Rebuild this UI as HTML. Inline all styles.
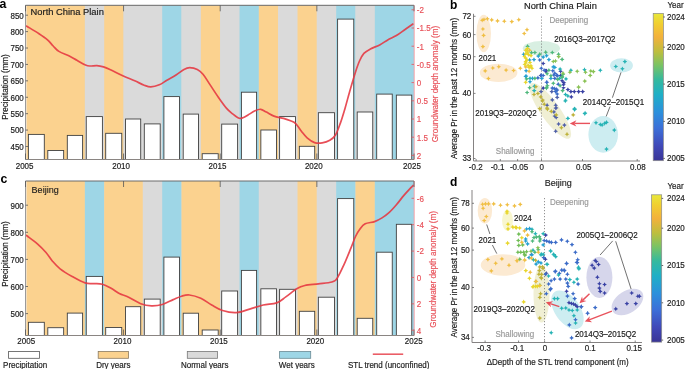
<!DOCTYPE html>
<html><head><meta charset="utf-8"><title>Figure</title>
<style>html,body{margin:0;padding:0;background:#fff;} svg{display:block;will-change:transform;} text{font-family:"Liberation Sans", sans-serif;}</style>
</head><body>
<svg width="685" height="369" viewBox="0 0 685 369">
<defs>
<linearGradient id="parula" x1="0" y1="1" x2="0" y2="0">
<stop offset="0" stop-color="#3A3596"/>
<stop offset="0.1" stop-color="#4048B8"/>
<stop offset="0.22" stop-color="#3C6FD8"/>
<stop offset="0.33" stop-color="#2C90DC"/>
<stop offset="0.45" stop-color="#1FAFC6"/>
<stop offset="0.55" stop-color="#35B99E"/>
<stop offset="0.65" stop-color="#7BC363"/>
<stop offset="0.74" stop-color="#BDBE3E"/>
<stop offset="0.84" stop-color="#F3B13C"/>
<stop offset="0.93" stop-color="#F1CF30"/>
<stop offset="1" stop-color="#E8E83A"/>
</linearGradient>
</defs>
<rect width="685" height="369" fill="#fff"/>

<rect x="26.5" y="5.3" width="387.50" height="154.2" fill="#DADADA"/>
<rect x="26.50" y="5.3" width="58.39" height="154.2" fill="#FBD28F"/>
<rect x="84.89" y="5.3" width="19.33" height="154.2" fill="#DADADA"/>
<rect x="104.22" y="5.3" width="19.33" height="154.2" fill="#FBD28F"/>
<rect x="123.55" y="5.3" width="38.66" height="154.2" fill="#DADADA"/>
<rect x="162.21" y="5.3" width="19.33" height="154.2" fill="#9ED6E6"/>
<rect x="181.54" y="5.3" width="19.33" height="154.2" fill="#DADADA"/>
<rect x="200.87" y="5.3" width="19.33" height="154.2" fill="#FBD28F"/>
<rect x="220.20" y="5.3" width="19.33" height="154.2" fill="#DADADA"/>
<rect x="239.53" y="5.3" width="19.33" height="154.2" fill="#9ED6E6"/>
<rect x="258.86" y="5.3" width="19.33" height="154.2" fill="#FBD28F"/>
<rect x="278.19" y="5.3" width="19.33" height="154.2" fill="#DADADA"/>
<rect x="297.52" y="5.3" width="19.33" height="154.2" fill="#FBD28F"/>
<rect x="316.85" y="5.3" width="19.33" height="154.2" fill="#DADADA"/>
<rect x="336.18" y="5.3" width="19.33" height="154.2" fill="#9ED6E6"/>
<rect x="355.51" y="5.3" width="19.33" height="154.2" fill="#DADADA"/>
<rect x="374.84" y="5.3" width="39.16" height="154.2" fill="#9ED6E6"/>
<rect x="28.40" y="134.40" width="15.90" height="25.10" fill="#fff" stroke="#404040" stroke-width="0.9"/>
<rect x="47.80" y="150.50" width="15.85" height="9.00" fill="#fff" stroke="#404040" stroke-width="0.9"/>
<rect x="67.30" y="135.40" width="15.30" height="24.10" fill="#fff" stroke="#404040" stroke-width="0.9"/>
<rect x="86.25" y="116.60" width="16.15" height="42.90" fill="#fff" stroke="#404040" stroke-width="0.9"/>
<rect x="105.70" y="133.30" width="16.05" height="26.20" fill="#fff" stroke="#404040" stroke-width="0.9"/>
<rect x="125.55" y="119.00" width="15.15" height="40.50" fill="#fff" stroke="#404040" stroke-width="0.9"/>
<rect x="144.30" y="123.90" width="15.90" height="35.60" fill="#fff" stroke="#404040" stroke-width="0.9"/>
<rect x="163.90" y="96.60" width="15.55" height="62.90" fill="#fff" stroke="#404040" stroke-width="0.9"/>
<rect x="183.20" y="114.10" width="15.25" height="45.40" fill="#fff" stroke="#404040" stroke-width="0.9"/>
<rect x="202.20" y="153.70" width="16.00" height="5.80" fill="#fff" stroke="#404040" stroke-width="0.9"/>
<rect x="221.70" y="124.10" width="15.90" height="35.40" fill="#fff" stroke="#404040" stroke-width="0.9"/>
<rect x="241.40" y="92.20" width="15.20" height="67.30" fill="#fff" stroke="#404040" stroke-width="0.9"/>
<rect x="260.85" y="130.00" width="15.65" height="29.50" fill="#fff" stroke="#404040" stroke-width="0.9"/>
<rect x="279.60" y="116.60" width="15.85" height="42.90" fill="#fff" stroke="#404040" stroke-width="0.9"/>
<rect x="299.35" y="146.30" width="15.35" height="13.20" fill="#fff" stroke="#404040" stroke-width="0.9"/>
<rect x="318.35" y="112.70" width="16.10" height="46.80" fill="#fff" stroke="#404040" stroke-width="0.9"/>
<rect x="337.60" y="19.10" width="16.15" height="140.40" fill="#fff" stroke="#404040" stroke-width="0.9"/>
<rect x="357.20" y="112.00" width="15.55" height="47.50" fill="#fff" stroke="#404040" stroke-width="0.9"/>
<rect x="376.70" y="94.10" width="15.55" height="65.40" fill="#fff" stroke="#404040" stroke-width="0.9"/>
<rect x="396.35" y="95.10" width="15.40" height="64.40" fill="#fff" stroke="#404040" stroke-width="0.9"/>
<path d="M26.00,25.80 C26.27,25.95 25.43,25.38 27.60,26.70 C29.77,28.02 35.68,31.52 39.00,33.70 C42.32,35.88 45.13,37.75 47.50,39.80 C49.87,41.85 51.30,44.07 53.20,46.00 C55.10,47.93 56.22,49.72 58.90,51.40 C61.58,53.08 66.30,54.62 69.30,56.10 C72.30,57.58 74.20,58.82 76.90,60.30 C79.60,61.78 83.28,64.05 85.50,65.00 C87.72,65.95 88.30,65.90 90.20,66.00 C92.10,66.10 94.68,65.45 96.90,65.60 C99.12,65.75 101.23,66.20 103.50,66.90 C105.77,67.60 107.20,68.28 110.50,69.80 C113.80,71.32 119.27,74.17 123.30,76.00 C127.33,77.83 131.22,79.27 134.70,80.80 C138.18,82.33 141.52,84.18 144.20,85.20 C146.88,86.22 148.28,86.97 150.80,86.90 C153.32,86.83 156.62,85.92 159.30,84.80 C161.98,83.68 164.05,81.88 166.90,80.20 C169.75,78.52 173.55,76.50 176.40,74.70 C179.25,72.90 181.78,70.57 184.00,69.40 C186.22,68.23 187.48,67.70 189.70,67.70 C191.92,67.70 195.08,68.32 197.30,69.40 C199.52,70.48 201.00,71.83 203.00,74.20 C205.00,76.57 206.72,79.72 209.30,83.60 C211.88,87.48 215.62,93.37 218.50,97.50 C221.38,101.63 224.18,105.62 226.60,108.40 C229.02,111.18 231.18,112.70 233.00,114.20 C234.82,115.70 236.25,116.70 237.50,117.40 C238.75,118.10 239.50,118.37 240.50,118.40 C241.50,118.43 242.25,118.17 243.50,117.60 C244.75,117.03 246.08,116.13 248.00,115.00 C249.92,113.87 252.88,111.75 255.00,110.80 C257.12,109.85 258.80,109.08 260.70,109.30 C262.60,109.52 264.18,110.97 266.40,112.10 C268.62,113.23 271.15,115.05 274.00,116.10 C276.85,117.15 280.75,117.62 283.50,118.40 C286.25,119.18 288.47,119.93 290.50,120.80 C292.53,121.67 293.88,121.87 295.70,123.60 C297.52,125.33 299.50,128.83 301.40,131.20 C303.30,133.57 304.90,135.90 307.10,137.80 C309.30,139.70 312.08,141.75 314.60,142.60 C317.12,143.45 319.67,143.28 322.20,142.90 C324.73,142.52 327.58,141.62 329.80,140.30 C332.02,138.98 333.77,137.78 335.50,135.00 C337.23,132.22 338.62,128.03 340.20,123.60 C341.78,119.17 343.42,113.77 345.00,108.40 C346.58,103.03 348.00,97.32 349.70,91.40 C351.40,85.48 353.57,77.97 355.20,72.90 C356.83,67.83 358.05,64.25 359.50,61.00 C360.95,57.75 362.08,55.40 363.90,53.40 C365.72,51.40 367.70,50.45 370.40,49.00 C373.10,47.55 377.22,46.22 380.10,44.70 C382.98,43.18 384.98,41.42 387.70,39.90 C390.42,38.38 393.50,37.33 396.40,35.60 C399.30,33.87 402.47,31.35 405.10,29.50 C407.73,27.65 410.80,25.48 412.20,24.50 C413.60,23.52 413.28,23.75 413.50,23.60" fill="none" stroke="#E53540" stroke-opacity="0.88" stroke-width="1.7" stroke-linejoin="round"/>
<line x1="25.5" y1="5.3" x2="414.0" y2="5.3" stroke="#6a6a6a" stroke-width="1"/>
<line x1="25.5" y1="159.5" x2="414.0" y2="159.5" stroke="#8a8582" stroke-width="1"/>
<line x1="25.5" y1="5.3" x2="25.5" y2="159.5" stroke="#9a9a9a" stroke-width="1"/>
<line x1="414.2" y1="5.3" x2="414.2" y2="159.5" stroke="#F2A3A8" stroke-width="1"/>
<line x1="25.50" y1="5.3" x2="25.50" y2="11.3" stroke="#555" stroke-width="0.8"/>
<line x1="25.50" y1="159.5" x2="25.50" y2="153.5" stroke="#555" stroke-width="0.8"/>
<text x="24.60" y="169.20" font-size="8.6" textLength="17.80" lengthAdjust="spacingAndGlyphs" text-anchor="middle" fill="#1c1c1c" stroke="#1c1c1c" stroke-width="0.18" >2005</text>
<line x1="123.55" y1="5.3" x2="123.55" y2="11.3" stroke="#555" stroke-width="0.8"/>
<line x1="123.55" y1="159.5" x2="123.55" y2="153.5" stroke="#555" stroke-width="0.8"/>
<text x="121.10" y="169.20" font-size="8.6" textLength="17.80" lengthAdjust="spacingAndGlyphs" text-anchor="middle" fill="#1c1c1c" stroke="#1c1c1c" stroke-width="0.18" >2010</text>
<line x1="220.20" y1="5.3" x2="220.20" y2="11.3" stroke="#555" stroke-width="0.8"/>
<line x1="220.20" y1="159.5" x2="220.20" y2="153.5" stroke="#555" stroke-width="0.8"/>
<text x="217.50" y="169.20" font-size="8.6" textLength="17.80" lengthAdjust="spacingAndGlyphs" text-anchor="middle" fill="#1c1c1c" stroke="#1c1c1c" stroke-width="0.18" >2015</text>
<line x1="316.85" y1="5.3" x2="316.85" y2="11.3" stroke="#555" stroke-width="0.8"/>
<line x1="316.85" y1="159.5" x2="316.85" y2="153.5" stroke="#555" stroke-width="0.8"/>
<text x="313.80" y="169.20" font-size="8.6" textLength="17.80" lengthAdjust="spacingAndGlyphs" text-anchor="middle" fill="#1c1c1c" stroke="#1c1c1c" stroke-width="0.18" >2020</text>
<line x1="414.00" y1="5.3" x2="414.00" y2="11.3" stroke="#555" stroke-width="0.8"/>
<line x1="414.00" y1="159.5" x2="414.00" y2="153.5" stroke="#555" stroke-width="0.8"/>
<text x="412.00" y="169.20" font-size="8.6" textLength="17.80" lengthAdjust="spacingAndGlyphs" text-anchor="middle" fill="#1c1c1c" stroke="#1c1c1c" stroke-width="0.18" >2025</text>
<line x1="25.5" y1="146.48" x2="28.0" y2="146.48" stroke="#555" stroke-width="0.8"/>
<text x="23.80" y="149.78" font-size="8.6" textLength="13.35" lengthAdjust="spacingAndGlyphs" text-anchor="end" fill="#1c1c1c" stroke="#1c1c1c" stroke-width="0.18" >450</text>
<line x1="25.5" y1="130.07" x2="28.0" y2="130.07" stroke="#555" stroke-width="0.8"/>
<text x="23.80" y="133.37" font-size="8.6" textLength="13.35" lengthAdjust="spacingAndGlyphs" text-anchor="end" fill="#1c1c1c" stroke="#1c1c1c" stroke-width="0.18" >500</text>
<line x1="25.5" y1="113.66" x2="28.0" y2="113.66" stroke="#555" stroke-width="0.8"/>
<text x="23.80" y="116.96" font-size="8.6" textLength="13.35" lengthAdjust="spacingAndGlyphs" text-anchor="end" fill="#1c1c1c" stroke="#1c1c1c" stroke-width="0.18" >550</text>
<line x1="25.5" y1="97.25" x2="28.0" y2="97.25" stroke="#555" stroke-width="0.8"/>
<text x="23.80" y="100.55" font-size="8.6" textLength="13.35" lengthAdjust="spacingAndGlyphs" text-anchor="end" fill="#1c1c1c" stroke="#1c1c1c" stroke-width="0.18" >600</text>
<line x1="25.5" y1="80.84" x2="28.0" y2="80.84" stroke="#555" stroke-width="0.8"/>
<text x="23.80" y="84.14" font-size="8.6" textLength="13.35" lengthAdjust="spacingAndGlyphs" text-anchor="end" fill="#1c1c1c" stroke="#1c1c1c" stroke-width="0.18" >650</text>
<line x1="25.5" y1="64.43" x2="28.0" y2="64.43" stroke="#555" stroke-width="0.8"/>
<text x="23.80" y="67.73" font-size="8.6" textLength="13.35" lengthAdjust="spacingAndGlyphs" text-anchor="end" fill="#1c1c1c" stroke="#1c1c1c" stroke-width="0.18" >700</text>
<line x1="25.5" y1="48.02" x2="28.0" y2="48.02" stroke="#555" stroke-width="0.8"/>
<text x="23.80" y="51.32" font-size="8.6" textLength="13.35" lengthAdjust="spacingAndGlyphs" text-anchor="end" fill="#1c1c1c" stroke="#1c1c1c" stroke-width="0.18" >750</text>
<line x1="25.5" y1="31.61" x2="28.0" y2="31.61" stroke="#555" stroke-width="0.8"/>
<text x="23.80" y="34.91" font-size="8.6" textLength="13.35" lengthAdjust="spacingAndGlyphs" text-anchor="end" fill="#1c1c1c" stroke="#1c1c1c" stroke-width="0.18" >800</text>
<line x1="25.5" y1="15.20" x2="28.0" y2="15.20" stroke="#555" stroke-width="0.8"/>
<text x="23.80" y="18.50" font-size="8.6" textLength="13.35" lengthAdjust="spacingAndGlyphs" text-anchor="end" fill="#1c1c1c" stroke="#1c1c1c" stroke-width="0.18" >850</text>
<line x1="414.0" y1="9.80" x2="411.5" y2="9.80" stroke="#E8525A" stroke-width="0.8"/>
<text x="416.80" y="13.10" font-size="8.6" textLength="7.11" lengthAdjust="spacingAndGlyphs" text-anchor="start" fill="#E8525A" stroke="#E8525A" stroke-width="0.18" >-2</text>
<line x1="414.0" y1="28.00" x2="411.5" y2="28.00" stroke="#E8525A" stroke-width="0.8"/>
<text x="416.80" y="31.30" font-size="8.6" textLength="13.79" lengthAdjust="spacingAndGlyphs" text-anchor="start" fill="#E8525A" stroke="#E8525A" stroke-width="0.18" >-1.5</text>
<line x1="414.0" y1="46.20" x2="411.5" y2="46.20" stroke="#E8525A" stroke-width="0.8"/>
<text x="416.80" y="49.50" font-size="8.6" textLength="7.11" lengthAdjust="spacingAndGlyphs" text-anchor="start" fill="#E8525A" stroke="#E8525A" stroke-width="0.18" >-1</text>
<line x1="414.0" y1="64.40" x2="411.5" y2="64.40" stroke="#E8525A" stroke-width="0.8"/>
<text x="416.80" y="67.70" font-size="8.6" textLength="13.79" lengthAdjust="spacingAndGlyphs" text-anchor="start" fill="#E8525A" stroke="#E8525A" stroke-width="0.18" >-0.5</text>
<line x1="414.0" y1="82.60" x2="411.5" y2="82.60" stroke="#E8525A" stroke-width="0.8"/>
<text x="416.80" y="85.90" font-size="8.6" textLength="4.45" lengthAdjust="spacingAndGlyphs" text-anchor="start" fill="#E8525A" stroke="#E8525A" stroke-width="0.18" >0</text>
<line x1="414.0" y1="100.80" x2="411.5" y2="100.80" stroke="#E8525A" stroke-width="0.8"/>
<text x="416.80" y="104.10" font-size="8.6" textLength="11.12" lengthAdjust="spacingAndGlyphs" text-anchor="start" fill="#E8525A" stroke="#E8525A" stroke-width="0.18" >0.5</text>
<line x1="414.0" y1="119.00" x2="411.5" y2="119.00" stroke="#E8525A" stroke-width="0.8"/>
<text x="416.80" y="122.30" font-size="8.6" textLength="4.45" lengthAdjust="spacingAndGlyphs" text-anchor="start" fill="#E8525A" stroke="#E8525A" stroke-width="0.18" >1</text>
<line x1="414.0" y1="137.20" x2="411.5" y2="137.20" stroke="#E8525A" stroke-width="0.8"/>
<text x="416.80" y="140.50" font-size="8.6" textLength="11.12" lengthAdjust="spacingAndGlyphs" text-anchor="start" fill="#E8525A" stroke="#E8525A" stroke-width="0.18" >1.5</text>
<line x1="414.0" y1="155.40" x2="411.5" y2="155.40" stroke="#E8525A" stroke-width="0.8"/>
<text x="416.80" y="158.70" font-size="8.6" textLength="4.45" lengthAdjust="spacingAndGlyphs" text-anchor="start" fill="#E8525A" stroke="#E8525A" stroke-width="0.18" >2</text>
<text x="30.60" y="15.40" font-size="9.35" text-anchor="start" fill="#1c1c1c" stroke="#1c1c1c" stroke-width="0.18" >North China Plain</text>
<text transform="translate(7.5,87.00) rotate(-90)" font-size="8.6" textLength="65.6" lengthAdjust="spacingAndGlyphs" text-anchor="middle" fill="#1c1c1c" stroke="#1c1c1c" stroke-width="0.18">Precipitation (mm)</text>
<text transform="translate(437.5,84.00) rotate(-90)" font-size="8.6" textLength="116.5" lengthAdjust="spacingAndGlyphs" text-anchor="middle" fill="#E8525A" stroke="#E8525A" stroke-width="0.18">Groundwater depth anomaly (m)</text>
<rect x="26.5" y="181.0" width="387.50" height="154.5" fill="#DADADA"/>
<rect x="26.50" y="181.0" width="58.39" height="154.5" fill="#FBD28F"/>
<rect x="84.89" y="181.0" width="19.33" height="154.5" fill="#9ED6E6"/>
<rect x="104.22" y="181.0" width="38.66" height="154.5" fill="#FBD28F"/>
<rect x="142.88" y="181.0" width="19.33" height="154.5" fill="#DADADA"/>
<rect x="162.21" y="181.0" width="19.33" height="154.5" fill="#9ED6E6"/>
<rect x="181.54" y="181.0" width="38.66" height="154.5" fill="#FBD28F"/>
<rect x="220.20" y="181.0" width="19.33" height="154.5" fill="#DADADA"/>
<rect x="239.53" y="181.0" width="19.33" height="154.5" fill="#9ED6E6"/>
<rect x="258.86" y="181.0" width="38.66" height="154.5" fill="#DADADA"/>
<rect x="297.52" y="181.0" width="19.33" height="154.5" fill="#FBD28F"/>
<rect x="316.85" y="181.0" width="19.33" height="154.5" fill="#DADADA"/>
<rect x="336.18" y="181.0" width="19.33" height="154.5" fill="#9ED6E6"/>
<rect x="355.51" y="181.0" width="19.33" height="154.5" fill="#FBD28F"/>
<rect x="374.84" y="181.0" width="39.16" height="154.5" fill="#9ED6E6"/>
<rect x="28.40" y="322.30" width="15.90" height="13.20" fill="#fff" stroke="#404040" stroke-width="0.9"/>
<rect x="47.80" y="327.70" width="15.85" height="7.80" fill="#fff" stroke="#404040" stroke-width="0.9"/>
<rect x="67.30" y="313.10" width="15.30" height="22.40" fill="#fff" stroke="#404040" stroke-width="0.9"/>
<rect x="86.25" y="276.40" width="16.15" height="59.10" fill="#fff" stroke="#404040" stroke-width="0.9"/>
<rect x="105.70" y="327.50" width="16.05" height="8.00" fill="#fff" stroke="#404040" stroke-width="0.9"/>
<rect x="125.55" y="306.70" width="15.15" height="28.80" fill="#fff" stroke="#404040" stroke-width="0.9"/>
<rect x="144.30" y="299.10" width="15.90" height="36.40" fill="#fff" stroke="#404040" stroke-width="0.9"/>
<rect x="163.90" y="257.10" width="15.55" height="78.40" fill="#fff" stroke="#404040" stroke-width="0.9"/>
<rect x="183.20" y="313.20" width="15.25" height="22.30" fill="#fff" stroke="#404040" stroke-width="0.9"/>
<rect x="202.20" y="330.00" width="16.00" height="5.50" fill="#fff" stroke="#404040" stroke-width="0.9"/>
<rect x="221.70" y="291.00" width="15.90" height="44.50" fill="#fff" stroke="#404040" stroke-width="0.9"/>
<rect x="241.40" y="270.40" width="15.20" height="65.10" fill="#fff" stroke="#404040" stroke-width="0.9"/>
<rect x="260.85" y="288.80" width="15.65" height="46.70" fill="#fff" stroke="#404040" stroke-width="0.9"/>
<rect x="279.60" y="289.30" width="15.85" height="46.20" fill="#fff" stroke="#404040" stroke-width="0.9"/>
<rect x="299.35" y="311.30" width="15.35" height="24.20" fill="#fff" stroke="#404040" stroke-width="0.9"/>
<rect x="318.35" y="297.20" width="16.10" height="38.30" fill="#fff" stroke="#404040" stroke-width="0.9"/>
<rect x="337.60" y="198.60" width="16.15" height="136.90" fill="#fff" stroke="#404040" stroke-width="0.9"/>
<rect x="357.20" y="318.30" width="15.55" height="17.20" fill="#fff" stroke="#404040" stroke-width="0.9"/>
<rect x="376.70" y="252.20" width="15.55" height="83.30" fill="#fff" stroke="#404040" stroke-width="0.9"/>
<rect x="396.35" y="224.30" width="15.40" height="111.20" fill="#fff" stroke="#404040" stroke-width="0.9"/>
<path d="M26.00,235.30 C26.27,235.47 25.70,234.87 27.60,236.30 C29.50,237.73 34.33,241.20 37.40,243.90 C40.47,246.60 43.48,249.62 46.00,252.50 C48.52,255.38 50.15,258.48 52.50,261.20 C54.85,263.92 56.83,266.27 60.10,268.80 C63.37,271.33 67.93,274.05 72.10,276.40 C76.27,278.75 81.48,281.70 85.10,282.90 C88.72,284.10 90.92,283.38 93.80,283.60 C96.68,283.82 99.52,283.42 102.40,284.20 C105.28,284.98 108.20,286.70 111.10,288.30 C114.00,289.90 117.13,292.45 119.80,293.80 C122.47,295.15 123.62,294.75 127.10,296.40 C130.58,298.05 136.63,302.12 140.70,303.70 C144.77,305.28 147.90,305.77 151.50,305.90 C155.10,306.03 158.68,305.55 162.30,304.50 C165.92,303.45 170.00,300.98 173.20,299.60 C176.40,298.22 178.80,296.97 181.50,296.20 C184.20,295.43 186.18,294.65 189.40,295.00 C192.62,295.35 197.08,296.63 200.80,298.30 C204.52,299.97 208.08,302.97 211.70,305.00 C215.32,307.03 218.43,309.23 222.50,310.50 C226.57,311.77 231.58,312.83 236.10,312.60 C240.62,312.37 245.08,310.37 249.60,309.10 C254.12,307.83 258.68,306.03 263.20,305.00 C267.72,303.97 272.93,304.25 276.70,302.90 C280.47,301.55 282.47,299.25 285.80,296.90 C289.13,294.55 293.53,290.70 296.70,288.80 C299.87,286.90 301.18,286.32 304.80,285.50 C308.42,284.68 313.88,284.48 318.40,283.90 C322.92,283.32 328.75,283.00 331.90,282.00 C335.05,281.00 335.27,280.83 337.30,277.90 C339.33,274.97 341.83,269.37 344.10,264.40 C346.37,259.43 349.00,252.75 350.90,248.10 C352.80,243.45 354.02,239.65 355.50,236.50 C356.98,233.35 358.18,231.32 359.80,229.20 C361.42,227.08 362.73,225.07 365.20,223.80 C367.67,222.53 371.80,222.58 374.60,221.60 C377.40,220.62 379.55,219.43 382.00,217.90 C384.45,216.37 386.87,214.63 389.30,212.40 C391.73,210.17 394.17,207.33 396.60,204.50 C399.03,201.67 401.47,198.25 403.90,195.40 C406.33,192.55 409.58,189.13 411.20,187.40 C412.82,185.67 413.20,185.40 413.60,185.00" fill="none" stroke="#E53540" stroke-opacity="0.88" stroke-width="1.7" stroke-linejoin="round"/>
<line x1="25.5" y1="181.0" x2="414.0" y2="181.0" stroke="#6a6a6a" stroke-width="1"/>
<line x1="25.5" y1="335.5" x2="414.0" y2="335.5" stroke="#8a8582" stroke-width="1"/>
<line x1="25.5" y1="181.0" x2="25.5" y2="335.5" stroke="#9a9a9a" stroke-width="1"/>
<line x1="414.2" y1="181.0" x2="414.2" y2="335.5" stroke="#F2A3A8" stroke-width="1"/>
<line x1="25.50" y1="181.0" x2="25.50" y2="187.0" stroke="#555" stroke-width="0.8"/>
<line x1="25.50" y1="335.5" x2="25.50" y2="329.5" stroke="#555" stroke-width="0.8"/>
<text x="26.20" y="344.00" font-size="8.6" textLength="17.80" lengthAdjust="spacingAndGlyphs" text-anchor="middle" fill="#1c1c1c" stroke="#1c1c1c" stroke-width="0.18" >2005</text>
<line x1="123.55" y1="181.0" x2="123.55" y2="187.0" stroke="#555" stroke-width="0.8"/>
<line x1="123.55" y1="335.5" x2="123.55" y2="329.5" stroke="#555" stroke-width="0.8"/>
<text x="122.50" y="344.00" font-size="8.6" textLength="17.80" lengthAdjust="spacingAndGlyphs" text-anchor="middle" fill="#1c1c1c" stroke="#1c1c1c" stroke-width="0.18" >2010</text>
<line x1="220.20" y1="181.0" x2="220.20" y2="187.0" stroke="#555" stroke-width="0.8"/>
<line x1="220.20" y1="335.5" x2="220.20" y2="329.5" stroke="#555" stroke-width="0.8"/>
<text x="218.90" y="344.00" font-size="8.6" textLength="17.80" lengthAdjust="spacingAndGlyphs" text-anchor="middle" fill="#1c1c1c" stroke="#1c1c1c" stroke-width="0.18" >2015</text>
<line x1="316.85" y1="181.0" x2="316.85" y2="187.0" stroke="#555" stroke-width="0.8"/>
<line x1="316.85" y1="335.5" x2="316.85" y2="329.5" stroke="#555" stroke-width="0.8"/>
<text x="315.30" y="344.00" font-size="8.6" textLength="17.80" lengthAdjust="spacingAndGlyphs" text-anchor="middle" fill="#1c1c1c" stroke="#1c1c1c" stroke-width="0.18" >2020</text>
<line x1="414.00" y1="181.0" x2="414.00" y2="187.0" stroke="#555" stroke-width="0.8"/>
<line x1="414.00" y1="335.5" x2="414.00" y2="329.5" stroke="#555" stroke-width="0.8"/>
<text x="413.70" y="344.00" font-size="8.6" textLength="17.80" lengthAdjust="spacingAndGlyphs" text-anchor="middle" fill="#1c1c1c" stroke="#1c1c1c" stroke-width="0.18" >2025</text>
<line x1="25.5" y1="313.60" x2="28.0" y2="313.60" stroke="#555" stroke-width="0.8"/>
<text x="23.80" y="316.90" font-size="8.6" textLength="13.35" lengthAdjust="spacingAndGlyphs" text-anchor="end" fill="#1c1c1c" stroke="#1c1c1c" stroke-width="0.18" >500</text>
<line x1="25.5" y1="286.50" x2="28.0" y2="286.50" stroke="#555" stroke-width="0.8"/>
<text x="23.80" y="289.80" font-size="8.6" textLength="13.35" lengthAdjust="spacingAndGlyphs" text-anchor="end" fill="#1c1c1c" stroke="#1c1c1c" stroke-width="0.18" >600</text>
<line x1="25.5" y1="259.40" x2="28.0" y2="259.40" stroke="#555" stroke-width="0.8"/>
<text x="23.80" y="262.70" font-size="8.6" textLength="13.35" lengthAdjust="spacingAndGlyphs" text-anchor="end" fill="#1c1c1c" stroke="#1c1c1c" stroke-width="0.18" >700</text>
<line x1="25.5" y1="232.30" x2="28.0" y2="232.30" stroke="#555" stroke-width="0.8"/>
<text x="23.80" y="235.60" font-size="8.6" textLength="13.35" lengthAdjust="spacingAndGlyphs" text-anchor="end" fill="#1c1c1c" stroke="#1c1c1c" stroke-width="0.18" >800</text>
<line x1="25.5" y1="205.20" x2="28.0" y2="205.20" stroke="#555" stroke-width="0.8"/>
<text x="23.80" y="208.50" font-size="8.6" textLength="13.35" lengthAdjust="spacingAndGlyphs" text-anchor="end" fill="#1c1c1c" stroke="#1c1c1c" stroke-width="0.18" >900</text>
<line x1="414.0" y1="198.31" x2="411.5" y2="198.31" stroke="#E8525A" stroke-width="0.8"/>
<text x="416.80" y="201.61" font-size="8.6" textLength="7.11" lengthAdjust="spacingAndGlyphs" text-anchor="start" fill="#E8525A" stroke="#E8525A" stroke-width="0.18" >-6</text>
<line x1="414.0" y1="224.69" x2="411.5" y2="224.69" stroke="#E8525A" stroke-width="0.8"/>
<text x="416.80" y="227.99" font-size="8.6" textLength="7.11" lengthAdjust="spacingAndGlyphs" text-anchor="start" fill="#E8525A" stroke="#E8525A" stroke-width="0.18" >-4</text>
<line x1="414.0" y1="251.07" x2="411.5" y2="251.07" stroke="#E8525A" stroke-width="0.8"/>
<text x="416.80" y="254.37" font-size="8.6" textLength="7.11" lengthAdjust="spacingAndGlyphs" text-anchor="start" fill="#E8525A" stroke="#E8525A" stroke-width="0.18" >-2</text>
<line x1="414.0" y1="277.45" x2="411.5" y2="277.45" stroke="#E8525A" stroke-width="0.8"/>
<text x="416.80" y="280.75" font-size="8.6" textLength="4.45" lengthAdjust="spacingAndGlyphs" text-anchor="start" fill="#E8525A" stroke="#E8525A" stroke-width="0.18" >0</text>
<line x1="414.0" y1="303.83" x2="411.5" y2="303.83" stroke="#E8525A" stroke-width="0.8"/>
<text x="416.80" y="307.13" font-size="8.6" textLength="4.45" lengthAdjust="spacingAndGlyphs" text-anchor="start" fill="#E8525A" stroke="#E8525A" stroke-width="0.18" >2</text>
<line x1="414.0" y1="330.21" x2="411.5" y2="330.21" stroke="#E8525A" stroke-width="0.8"/>
<text x="416.80" y="333.51" font-size="8.6" textLength="4.45" lengthAdjust="spacingAndGlyphs" text-anchor="start" fill="#E8525A" stroke="#E8525A" stroke-width="0.18" >4</text>
<text x="31.6" y="193.1" font-size="9.9" textLength="27.1" lengthAdjust="spacingAndGlyphs" fill="#1c1c1c" stroke="#1c1c1c" stroke-width="0.15">Beijing</text>
<text transform="translate(7.5,254.00) rotate(-90)" font-size="8.6" textLength="65.6" lengthAdjust="spacingAndGlyphs" text-anchor="middle" fill="#1c1c1c" stroke="#1c1c1c" stroke-width="0.18">Precipitation (mm)</text>
<text transform="translate(436.3,269.40) rotate(-90)" font-size="8.6" textLength="116.5" lengthAdjust="spacingAndGlyphs" text-anchor="middle" fill="#E8525A" stroke="#E8525A" stroke-width="0.18">Groundwater depth anomaly (m)</text>
<text x="-0.6" y="7.6" font-size="12.3" font-weight="bold" fill="#000">a</text>
<text x="0.45" y="182.8" font-size="12.3" font-weight="bold" fill="#000">c</text>
<text x="450.1" y="8.5" font-size="12" font-weight="bold" fill="#000">b</text>
<text x="449.9" y="185.5" font-size="12" font-weight="bold" fill="#000">d</text>
<ellipse cx="483.7" cy="33.5" rx="7.3" ry="18.7" fill="#FCEAD2" opacity="1"/>
<ellipse cx="498.6" cy="72.8" rx="18.8" ry="9.1" fill="#FCEAD2" opacity="1"/>
<ellipse cx="541.4" cy="48.3" rx="18.6" ry="7.3" fill="#D8EFE2" opacity="1"/>
<ellipse cx="550.3" cy="110.9" rx="33.4" ry="9.5" fill="#F0EFD4" opacity="1" transform="rotate(54.7 550.3 110.9)"/>
<ellipse cx="621.5" cy="65.4" rx="11.4" ry="7.1" fill="#CDEDF1" opacity="1"/>
<ellipse cx="603.2" cy="134.4" rx="14.8" ry="18.3" fill="#CDEDF1" opacity="1"/>
<line x1="541.5" y1="16.5" x2="541.5" y2="160" stroke="#777" stroke-width="0.8" stroke-dasharray="1.2,1.8"/>
<path d="M540.85,63.50L542.40,62.70L543.20,61.15L544.00,62.70L545.55,63.50L544.00,64.30L543.20,65.85L542.40,64.30ZM544.25,70.80L545.80,70.00L546.60,68.45L547.40,70.00L548.95,70.80L547.40,71.60L546.60,73.15L545.80,71.60ZM558.25,71.30L559.80,70.50L560.60,68.95L561.40,70.50L562.95,71.30L561.40,72.10L560.60,73.65L559.80,72.10ZM543.15,70.80L544.70,70.00L545.50,68.45L546.30,70.00L547.85,70.80L546.30,71.60L545.50,73.15L544.70,71.60ZM576.25,91.60L577.80,90.80L578.60,89.25L579.40,90.80L580.95,91.60L579.40,92.40L578.60,93.95L577.80,92.40ZM580.35,91.60L581.90,90.80L582.70,89.25L583.50,90.80L585.05,91.60L583.50,92.40L582.70,93.95L581.90,92.40ZM538.45,75.50L540.00,74.70L540.80,73.15L541.60,74.70L543.15,75.50L541.60,76.30L540.80,77.85L540.00,76.30ZM540.85,88.10L542.40,87.30L543.20,85.75L544.00,87.30L545.55,88.10L544.00,88.90L543.20,90.45L542.40,88.90ZM558.25,75.50L559.80,74.70L560.60,73.15L561.40,74.70L562.95,75.50L561.40,76.30L560.60,77.85L559.80,76.30ZM559.75,80.80L561.30,80.00L562.10,78.45L562.90,80.00L564.45,80.80L562.90,81.60L562.10,83.15L561.30,81.60ZM561.65,82.80L563.20,82.00L564.00,80.45L564.80,82.00L566.35,82.80L564.80,83.60L564.00,85.15L563.20,83.60ZM561.15,84.70L562.70,83.90L563.50,82.35L564.30,83.90L565.85,84.70L564.30,85.50L563.50,87.05L562.70,85.50ZM561.15,87.70L562.70,86.90L563.50,85.35L564.30,86.90L565.85,87.70L564.30,88.50L563.50,90.05L562.70,88.50ZM565.55,89.60L567.10,88.80L567.90,87.25L568.70,88.80L570.25,89.60L568.70,90.40L567.90,91.95L567.10,90.40ZM568.55,91.60L570.10,90.80L570.90,89.25L571.70,90.80L573.25,91.60L571.70,92.40L570.90,93.95L570.10,92.40ZM571.95,91.60L573.50,90.80L574.30,89.25L575.10,90.80L576.65,91.60L575.10,92.40L574.30,93.95L573.50,92.40ZM576.35,91.60L577.90,90.80L578.70,89.25L579.50,90.80L581.05,91.60L579.50,92.40L578.70,93.95L577.90,92.40ZM568.95,96.90L570.50,96.10L571.30,94.55L572.10,96.10L573.65,96.90L572.10,97.70L571.30,99.25L570.50,97.70Z" fill="#3A42A4"/>
<path d="M538.75,91.60L540.30,90.80L541.10,89.25L541.90,90.80L543.45,91.60L541.90,92.40L541.10,93.95L540.30,92.40ZM544.75,105.20L546.30,104.40L547.10,102.85L547.90,104.40L549.45,105.20L547.90,106.00L547.10,107.55L546.30,106.00ZM549.45,91.60L551.00,90.80L551.80,89.25L552.60,90.80L554.15,91.60L552.60,92.40L551.80,93.95L551.00,92.40ZM554.85,97.40L556.40,96.60L557.20,95.05L558.00,96.60L559.55,97.40L558.00,98.20L557.20,99.75L556.40,98.20ZM549.95,99.90L551.50,99.10L552.30,97.55L553.10,99.10L554.65,99.90L553.10,100.70L552.30,102.25L551.50,100.70ZM553.35,105.20L554.90,104.40L555.70,102.85L556.50,104.40L558.05,105.20L556.50,106.00L555.70,107.55L554.90,106.00ZM553.35,108.10L554.90,107.30L555.70,105.75L556.50,107.30L558.05,108.10L556.50,108.90L555.70,110.45L554.90,108.90ZM553.85,107.90L555.40,107.10L556.20,105.55L557.00,107.10L558.55,107.90L557.00,108.70L556.20,110.25L555.40,108.70ZM551.55,111.90L553.10,111.10L553.90,109.55L554.70,111.10L556.25,111.90L554.70,112.70L553.90,114.25L553.10,112.70ZM552.45,116.10L554.00,115.30L554.80,113.75L555.60,115.30L557.15,116.10L555.60,116.90L554.80,118.45L554.00,116.90ZM553.85,117.50L555.40,116.70L556.20,115.15L557.00,116.70L558.55,117.50L557.00,118.30L556.20,119.85L555.40,118.30ZM556.25,124.00L557.80,123.20L558.60,121.65L559.40,123.20L560.95,124.00L559.40,124.80L558.60,126.35L557.80,124.80ZM562.05,125.10L563.60,124.30L564.40,122.75L565.20,124.30L566.75,125.10L565.20,125.90L564.40,127.45L563.60,125.90ZM553.35,131.20L554.90,130.40L555.70,128.85L556.50,130.40L558.05,131.20L556.50,132.00L555.70,133.55L554.90,132.00Z" fill="#5060A8"/>
<path d="M537.45,60.00L539.00,59.20L539.80,57.65L540.60,59.20L542.15,60.00L540.60,60.80L539.80,62.35L539.00,60.80ZM538.95,68.30L540.50,67.50L541.30,65.95L542.10,67.50L543.65,68.30L542.10,69.10L541.30,70.65L540.50,69.10ZM541.85,70.30L543.40,69.50L544.20,67.95L545.00,69.50L546.55,70.30L545.00,71.10L544.20,72.65L543.40,71.10ZM538.95,75.20L540.50,74.40L541.30,72.85L542.10,74.40L543.65,75.20L542.10,76.00L541.30,77.55L540.50,76.00ZM550.45,70.80L552.00,70.00L552.80,68.45L553.60,70.00L555.15,70.80L553.60,71.60L552.80,73.15L552.00,71.60ZM552.45,73.20L554.00,72.40L554.80,70.85L555.60,72.40L557.15,73.20L555.60,74.00L554.80,75.55L554.00,74.00ZM555.35,75.70L556.90,74.90L557.70,73.35L558.50,74.90L560.05,75.70L558.50,76.50L557.70,78.05L556.90,76.50ZM535.55,77.90L537.10,77.10L537.90,75.55L538.70,77.10L540.25,77.90L538.70,78.70L537.90,80.25L537.10,78.70ZM540.85,75.50L542.40,74.70L543.20,73.15L544.00,74.70L545.55,75.50L544.00,76.30L543.20,77.85L542.40,76.30ZM544.25,82.30L545.80,81.50L546.60,79.95L547.40,81.50L548.95,82.30L547.40,83.10L546.60,84.65L545.80,83.10ZM551.45,75.00L553.00,74.20L553.80,72.65L554.60,74.20L556.15,75.00L554.60,75.80L553.80,77.35L553.00,75.80ZM554.35,75.50L555.90,74.70L556.70,73.15L557.50,74.70L559.05,75.50L557.50,76.30L556.70,77.85L555.90,76.30ZM552.45,78.40L554.00,77.60L554.80,76.05L555.60,77.60L557.15,78.40L555.60,79.20L554.80,80.75L554.00,79.20ZM544.65,82.30L546.20,81.50L547.00,79.95L547.80,81.50L549.35,82.30L547.80,83.10L547.00,84.65L546.20,83.10ZM555.85,84.20L557.40,83.40L558.20,81.85L559.00,83.40L560.55,84.20L559.00,85.00L558.20,86.55L557.40,85.00ZM549.95,88.10L551.50,87.30L552.30,85.75L553.10,87.30L554.65,88.10L553.10,88.90L552.30,90.45L551.50,88.90ZM551.95,88.60L553.50,87.80L554.30,86.25L555.10,87.80L556.65,88.60L555.10,89.40L554.30,90.95L553.50,89.40ZM553.85,89.10L555.40,88.30L556.20,86.75L557.00,88.30L558.55,89.10L557.00,89.90L556.20,91.45L555.40,89.90ZM554.85,90.10L556.40,89.30L557.20,87.75L558.00,89.30L559.55,90.10L558.00,90.90L557.20,92.45L556.40,90.90ZM553.35,91.60L554.90,90.80L555.70,89.25L556.50,90.80L558.05,91.60L556.50,92.40L555.70,93.95L554.90,92.40ZM554.85,94.00L556.40,93.20L557.20,91.65L558.00,93.20L559.55,94.00L558.00,94.80L557.20,96.35L556.40,94.80Z" fill="#3C6CC8"/>
<path d="M521.35,54.20L522.90,53.40L523.70,51.85L524.50,53.40L526.05,54.20L524.50,55.00L523.70,56.55L522.90,55.00ZM535.95,56.10L537.50,55.30L538.30,53.75L539.10,55.30L540.65,56.10L539.10,56.90L538.30,58.45L537.50,56.90ZM540.85,57.10L542.40,56.30L543.20,54.75L544.00,56.30L545.55,57.10L544.00,57.90L543.20,59.45L542.40,57.90ZM544.25,55.70L545.80,54.90L546.60,53.35L547.40,54.90L548.95,55.70L547.40,56.50L546.60,58.05L545.80,56.50ZM527.25,60.00L528.80,59.20L529.60,57.65L530.40,59.20L531.95,60.00L530.40,60.80L529.60,62.35L528.80,60.80ZM531.65,59.60L533.20,58.80L534.00,57.25L534.80,58.80L536.35,59.60L534.80,60.40L534.00,61.95L533.20,60.40ZM523.75,70.80L525.30,70.00L526.10,68.45L526.90,70.00L528.45,70.80L526.90,71.60L526.10,73.15L525.30,71.60ZM523.75,76.10L525.30,75.30L526.10,73.75L526.90,75.30L528.45,76.10L526.90,76.90L526.10,78.45L525.30,76.90ZM546.55,59.60L548.10,58.80L548.90,57.25L549.70,58.80L551.25,59.60L549.70,60.40L548.90,61.95L548.10,60.40ZM550.95,66.90L552.50,66.10L553.30,64.55L554.10,66.10L555.65,66.90L554.10,67.70L553.30,69.25L552.50,67.70ZM552.45,67.40L554.00,66.60L554.80,65.05L555.60,66.60L557.15,67.40L555.60,68.20L554.80,69.75L554.00,68.20ZM523.35,76.40L524.90,75.60L525.70,74.05L526.50,75.60L528.05,76.40L526.50,77.20L525.70,78.75L524.90,77.20ZM530.15,78.40L531.70,77.60L532.50,76.05L533.30,77.60L534.85,78.40L533.30,79.20L532.50,80.75L531.70,79.20ZM539.45,78.40L541.00,77.60L541.80,76.05L542.60,77.60L544.15,78.40L542.60,79.20L541.80,80.75L541.00,79.20ZM527.65,81.80L529.20,81.00L530.00,79.45L530.80,81.00L532.35,81.80L530.80,82.60L530.00,84.15L529.20,82.60ZM548.55,78.40L550.10,77.60L550.90,76.05L551.70,77.60L553.25,78.40L551.70,79.20L550.90,80.75L550.10,79.20Z" fill="#27A0D2"/>
<path d="M557.75,69.10L559.30,68.30L560.10,66.75L560.90,68.30L562.45,69.10L560.90,69.90L560.10,71.45L559.30,69.90ZM568.55,70.30L570.10,69.50L570.90,67.95L571.70,69.50L573.25,70.30L571.70,71.10L570.90,72.65L570.10,71.10ZM582.15,69.70L583.70,68.90L584.50,67.35L585.30,68.90L586.85,69.70L585.30,70.50L584.50,72.05L583.70,70.50ZM597.95,70.30L599.50,69.50L600.30,67.95L601.10,69.50L602.65,70.30L601.10,71.10L600.30,72.65L599.50,71.10ZM622.55,61.60L624.10,60.80L624.90,59.25L625.70,60.80L627.25,61.60L625.70,62.40L624.90,63.95L624.10,62.40ZM613.45,66.50L615.00,65.70L615.80,64.15L616.60,65.70L618.15,66.50L616.60,67.30L615.80,68.85L615.00,67.30ZM620.05,68.80L621.60,68.00L622.40,66.45L623.20,68.00L624.75,68.80L623.20,69.60L622.40,71.15L621.60,69.60ZM582.45,113.60L584.00,112.80L584.80,111.25L585.60,112.80L587.15,113.60L585.60,114.40L584.80,115.95L584.00,114.40ZM572.65,109.00L574.20,108.20L575.00,106.65L575.80,108.20L577.35,109.00L575.80,109.80L575.00,111.35L574.20,109.80ZM527.65,78.40L529.20,77.60L530.00,76.05L530.80,77.60L532.35,78.40L530.80,79.20L530.00,80.75L529.20,79.20ZM532.05,86.20L533.60,85.40L534.40,83.85L535.20,85.40L536.75,86.20L535.20,87.00L534.40,88.55L533.60,87.00ZM531.85,90.60L533.40,89.80L534.20,88.25L535.00,89.80L536.55,90.60L535.00,91.40L534.20,92.95L533.40,91.40ZM557.25,78.40L558.80,77.60L559.60,76.05L560.40,77.60L561.95,78.40L560.40,79.20L559.60,80.75L558.80,79.20ZM563.65,78.90L565.20,78.10L566.00,76.55L566.80,78.10L568.35,78.90L566.80,79.70L566.00,81.25L565.20,79.70ZM563.15,94.50L564.70,93.70L565.50,92.15L566.30,93.70L567.85,94.50L566.30,95.30L565.50,96.85L564.70,95.30ZM565.55,96.00L567.10,95.20L567.90,93.65L568.70,95.20L570.25,96.00L568.70,96.80L567.90,98.35L567.10,96.80ZM563.15,100.30L564.70,99.50L565.50,97.95L566.30,99.50L567.85,100.30L566.30,101.10L565.50,102.65L564.70,101.10ZM571.95,108.90L573.50,108.10L574.30,106.55L575.10,108.10L576.65,108.90L575.10,109.70L574.30,111.25L573.50,109.70ZM562.95,100.90L564.50,100.10L565.30,98.55L566.10,100.10L567.65,100.90L566.10,101.70L565.30,103.25L564.50,101.70ZM572.25,109.60L573.80,108.80L574.60,107.25L575.40,108.80L576.95,109.60L575.40,110.40L574.60,111.95L573.80,110.40ZM565.55,118.40L567.10,117.60L567.90,116.05L568.70,117.60L570.25,118.40L568.70,119.20L567.90,120.75L567.10,119.20ZM582.75,113.10L584.30,112.30L585.10,110.75L585.90,112.30L587.45,113.10L585.90,113.90L585.10,115.45L584.30,113.90ZM593.65,122.80L595.20,122.00L596.00,120.45L596.80,122.00L598.35,122.80L596.80,123.60L596.00,125.15L595.20,123.60ZM597.95,124.50L599.50,123.70L600.30,122.15L601.10,123.70L602.65,124.50L601.10,125.30L600.30,126.85L599.50,125.30ZM599.75,125.00L601.30,124.20L602.10,122.65L602.90,124.20L604.45,125.00L602.90,125.80L602.10,127.35L601.30,125.80ZM602.35,123.30L603.90,122.50L604.70,120.95L605.50,122.50L607.05,123.30L605.50,124.10L604.70,125.65L603.90,124.10ZM604.15,122.40L605.70,121.60L606.50,120.05L607.30,121.60L608.85,122.40L607.30,123.20L606.50,124.75L605.70,123.20ZM611.95,130.10L613.50,129.30L614.30,127.75L615.10,129.30L616.65,130.10L615.10,130.90L614.30,132.45L613.50,130.90ZM604.15,149.10L605.70,148.30L606.50,146.75L607.30,148.30L608.85,149.10L607.30,149.90L606.50,151.45L605.70,149.90Z" fill="#26B3B5"/>
<path d="M525.25,46.40L526.80,45.60L527.60,44.05L528.40,45.60L529.95,46.40L528.40,47.20L527.60,48.75L526.80,47.20ZM529.15,52.70L530.70,51.90L531.50,50.35L532.30,51.90L533.85,52.70L532.30,53.50L531.50,55.05L530.70,53.50ZM532.55,52.50L534.10,51.70L534.90,50.15L535.70,51.70L537.25,52.50L535.70,53.30L534.90,54.85L534.10,53.30ZM537.45,54.20L539.00,53.40L539.80,51.85L540.60,53.40L542.15,54.20L540.60,55.00L539.80,56.55L539.00,55.00ZM543.35,52.20L544.90,51.40L545.70,49.85L546.50,51.40L548.05,52.20L546.50,53.00L545.70,54.55L544.90,53.00ZM544.75,73.70L546.30,72.90L547.10,71.35L547.90,72.90L549.45,73.70L547.90,74.50L547.10,76.05L546.30,74.50ZM549.95,52.50L551.50,51.70L552.30,50.15L553.10,51.70L554.65,52.50L553.10,53.30L552.30,54.85L551.50,53.30ZM556.15,54.20L557.70,53.40L558.50,51.85L559.30,53.40L560.85,54.20L559.30,55.00L558.50,56.55L557.70,55.00ZM559.75,59.40L561.30,58.60L562.10,57.05L562.90,58.60L564.45,59.40L562.90,60.20L562.10,61.75L561.30,60.20ZM546.55,70.30L548.10,69.50L548.90,67.95L549.70,69.50L551.25,70.30L549.70,71.10L548.90,72.65L548.10,71.10ZM548.55,75.70L550.10,74.90L550.90,73.35L551.70,74.90L553.25,75.70L551.70,76.50L550.90,78.05L550.10,76.50ZM559.75,76.60L561.30,75.80L562.10,74.25L562.90,75.80L564.45,76.60L562.90,77.40L562.10,78.95L561.30,77.40ZM524.25,78.90L525.80,78.10L526.60,76.55L527.40,78.10L528.95,78.90L527.40,79.70L526.60,81.25L525.80,79.70ZM532.55,78.40L534.10,77.60L534.90,76.05L535.70,77.60L537.25,78.40L535.70,79.20L534.90,80.75L534.10,79.20ZM527.25,87.70L528.80,86.90L529.60,85.35L530.40,86.90L531.95,87.70L530.40,88.50L529.60,90.05L528.80,88.50ZM524.75,92.50L526.30,91.70L527.10,90.15L527.90,91.70L529.45,92.50L527.90,93.30L527.10,94.85L526.30,93.30ZM544.25,87.20L545.80,86.40L546.60,84.85L547.40,86.40L548.95,87.20L547.40,88.00L546.60,89.55L545.80,88.00ZM560.65,74.50L562.20,73.70L563.00,72.15L563.80,73.70L565.35,74.50L563.80,75.30L563.00,76.85L562.20,75.30ZM555.35,79.40L556.90,78.60L557.70,77.05L558.50,78.60L560.05,79.40L558.50,80.20L557.70,81.75L556.90,80.20ZM559.75,77.40L561.30,76.60L562.10,75.05L562.90,76.60L564.45,77.40L562.90,78.20L562.10,79.75L561.30,78.20ZM550.95,83.30L552.50,82.50L553.30,80.95L554.10,82.50L555.65,83.30L554.10,84.10L553.30,85.65L552.50,84.10ZM557.75,85.70L559.30,84.90L560.10,83.35L560.90,84.90L562.45,85.70L560.90,86.50L560.10,88.05L559.30,86.50ZM545.05,85.70L546.60,84.90L547.40,83.35L548.20,84.90L549.75,85.70L548.20,86.50L547.40,88.05L546.60,86.50ZM544.15,88.10L545.70,87.30L546.50,85.75L547.30,87.30L548.85,88.10L547.30,88.90L546.50,90.45L545.70,88.90ZM560.25,90.60L561.80,89.80L562.60,88.25L563.40,89.80L564.95,90.60L563.40,91.40L562.60,92.95L561.80,91.40Z" fill="#4FB87C"/>
<path d="M556.35,56.60L557.90,55.80L558.70,54.25L559.50,55.80L561.05,56.60L559.50,57.40L558.70,58.95L557.90,57.40ZM550.95,61.50L552.50,60.70L553.30,59.15L554.10,60.70L555.65,61.50L554.10,62.30L553.30,63.85L552.50,62.30ZM553.15,61.00L554.70,60.20L555.50,58.65L556.30,60.20L557.85,61.00L556.30,61.80L555.50,63.35L554.70,61.80ZM560.65,73.20L562.20,72.40L563.00,70.85L563.80,72.40L565.35,73.20L563.80,74.00L563.00,75.55L562.20,74.00ZM567.55,72.20L569.10,71.40L569.90,69.85L570.70,71.40L572.25,72.20L570.70,73.00L569.90,74.55L569.10,73.00ZM574.85,71.30L576.40,70.50L577.20,68.95L578.00,70.50L579.55,71.30L578.00,72.10L577.20,73.65L576.40,72.10ZM583.15,72.20L584.70,71.40L585.50,69.85L586.30,71.40L587.85,72.20L586.30,73.00L585.50,74.55L584.70,73.00ZM588.45,71.00L590.00,70.20L590.80,68.65L591.60,70.20L593.15,71.00L591.60,71.80L590.80,73.35L590.00,71.80ZM591.05,71.60L592.60,70.80L593.40,69.25L594.20,70.80L595.75,71.60L594.20,72.40L593.40,73.95L592.60,72.40ZM587.85,75.40L589.40,74.60L590.20,73.05L591.00,74.60L592.55,75.40L591.00,76.20L590.20,77.75L589.40,76.20ZM582.45,81.10L584.00,80.30L584.80,78.75L585.60,80.30L587.15,81.10L585.60,81.90L584.80,83.45L584.00,81.90ZM576.25,87.10L577.80,86.30L578.60,84.75L579.40,86.30L580.95,87.10L579.40,87.90L578.60,89.45L577.80,87.90ZM576.35,87.20L577.90,86.40L578.70,84.85L579.50,86.40L581.05,87.20L579.50,88.00L578.70,89.55L577.90,88.00Z" fill="#8AC255"/>
<path d="M533.55,86.70L535.10,85.90L535.90,84.35L536.70,85.90L538.25,86.70L536.70,87.50L535.90,89.05L535.10,87.50ZM531.65,94.50L533.20,93.70L534.00,92.15L534.80,93.70L536.35,94.50L534.80,95.30L534.00,96.85L533.20,95.30ZM535.55,93.50L537.10,92.70L537.90,91.15L538.70,92.70L540.25,93.50L538.70,94.30L537.90,95.85L537.10,94.30ZM538.45,96.90L540.00,96.10L540.80,94.55L541.60,96.10L543.15,96.90L541.60,97.70L540.80,99.25L540.00,97.70ZM540.35,100.10L541.90,99.30L542.70,97.75L543.50,99.30L545.05,100.10L543.50,100.90L542.70,102.45L541.90,100.90ZM541.85,104.20L543.40,103.40L544.20,101.85L545.00,103.40L546.55,104.20L545.00,105.00L544.20,106.55L543.40,105.00ZM537.45,108.60L539.00,107.80L539.80,106.25L540.60,107.80L542.15,108.60L540.60,109.40L539.80,110.95L539.00,109.40ZM544.65,108.10L546.20,107.30L547.00,105.75L547.80,107.30L549.35,108.10L547.80,108.90L547.00,110.45L546.20,108.90ZM540.15,100.90L541.70,100.10L542.50,98.55L543.30,100.10L544.85,100.90L543.30,101.70L542.50,103.25L541.70,101.70ZM545.05,109.10L546.60,108.30L547.40,106.75L548.20,108.30L549.75,109.10L548.20,109.90L547.40,111.45L546.60,109.90ZM548.95,111.40L550.50,110.60L551.30,109.05L552.10,110.60L553.65,111.40L552.10,112.20L551.30,113.75L550.50,112.20ZM553.85,114.90L555.40,114.10L556.20,112.55L557.00,114.10L558.55,114.90L557.00,115.70L556.20,117.25L555.40,115.70ZM559.05,127.70L560.60,126.90L561.40,125.35L562.20,126.90L563.75,127.70L562.20,128.50L561.40,130.05L560.60,128.50ZM564.65,134.20L566.20,133.40L567.00,131.85L567.80,133.40L569.35,134.20L567.80,135.00L567.00,136.55L566.20,135.00ZM537.55,108.80L539.10,108.00L539.90,106.45L540.70,108.00L542.25,108.80L540.70,109.60L539.90,111.15L539.10,109.60ZM570.85,114.90L572.40,114.10L573.20,112.55L574.00,114.10L575.55,114.90L574.00,115.70L573.20,117.25L572.40,115.70Z" fill="#BEB23A"/>
<path d="M479.85,20.20L481.40,19.40L482.20,17.85L483.00,19.40L484.55,20.20L483.00,21.00L482.20,22.55L481.40,21.00ZM481.65,19.50L483.20,18.70L484.00,17.15L484.80,18.70L486.35,19.50L484.80,20.30L484.00,21.85L483.20,20.30ZM485.05,18.80L486.60,18.00L487.40,16.45L488.20,18.00L489.75,18.80L488.20,19.60L487.40,21.15L486.60,19.60ZM489.35,19.90L490.90,19.10L491.70,17.55L492.50,19.10L494.05,19.90L492.50,20.70L491.70,22.25L490.90,20.70ZM495.15,20.90L496.70,20.10L497.50,18.55L498.30,20.10L499.85,20.90L498.30,21.70L497.50,23.25L496.70,21.70ZM501.95,21.20L503.50,20.40L504.30,18.85L505.10,20.40L506.65,21.20L505.10,22.00L504.30,23.55L503.50,22.00ZM509.45,21.60L511.00,20.80L511.80,19.25L512.60,20.80L514.15,21.60L512.60,22.40L511.80,23.95L511.00,22.40ZM516.45,19.70L518.00,18.90L518.80,17.35L519.60,18.90L521.15,19.70L519.60,20.50L518.80,22.05L518.00,20.50ZM524.65,29.70L526.20,28.90L527.00,27.35L527.80,28.90L529.35,29.70L527.80,30.50L527.00,32.05L526.20,30.50ZM521.85,33.50L523.40,32.70L524.20,31.15L525.00,32.70L526.55,33.50L525.00,34.30L524.20,35.85L523.40,34.30ZM480.55,29.00L482.10,28.20L482.90,26.65L483.70,28.20L485.25,29.00L483.70,29.80L482.90,31.35L482.10,29.80ZM481.25,35.40L482.80,34.60L483.60,33.05L484.40,34.60L485.95,35.40L484.40,36.20L483.60,37.75L482.80,36.20ZM480.55,46.60L482.10,45.80L482.90,44.25L483.70,45.80L485.25,46.60L483.70,47.40L482.90,48.95L482.10,47.40ZM482.85,70.90L484.40,70.10L485.20,68.55L486.00,70.10L487.55,70.90L486.00,71.70L485.20,73.25L484.40,71.70ZM490.45,68.00L492.00,67.20L492.80,65.65L493.60,67.20L495.15,68.00L493.60,68.80L492.80,70.35L492.00,68.80ZM496.45,66.70L498.00,65.90L498.80,64.35L499.60,65.90L501.15,66.70L499.60,67.50L498.80,69.05L498.00,67.50ZM503.75,70.10L505.30,69.30L506.10,67.75L506.90,69.30L508.45,70.10L506.90,70.90L506.10,72.45L505.30,70.90ZM511.25,70.50L512.80,69.70L513.60,68.15L514.40,69.70L515.95,70.50L514.40,71.30L513.60,72.85L512.80,71.30ZM486.05,78.50L487.60,77.70L488.40,76.15L489.20,77.70L490.75,78.50L489.20,79.30L488.40,80.85L487.60,79.30ZM517.95,68.30L519.50,67.50L520.30,65.95L521.10,67.50L522.65,68.30L521.10,69.10L520.30,70.65L519.50,69.10ZM527.25,50.30L528.80,49.50L529.60,47.95L530.40,49.50L531.95,50.30L530.40,51.10L529.60,52.65L528.80,51.10ZM523.35,66.90L524.90,66.10L525.70,64.55L526.50,66.10L528.05,66.90L526.50,67.70L525.70,69.25L524.90,67.70ZM526.75,71.30L528.30,70.50L529.10,68.95L529.90,70.50L531.45,71.30L529.90,72.10L529.10,73.65L528.30,72.10Z" fill="#F0BF45"/>
<path d="M523.35,50.30L524.90,49.50L525.70,47.95L526.50,49.50L528.05,50.30L526.50,51.10L525.70,52.65L524.90,51.10ZM523.35,53.70L524.90,52.90L525.70,51.35L526.50,52.90L528.05,53.70L526.50,54.50L525.70,56.05L524.90,54.50ZM526.25,54.70L527.80,53.90L528.60,52.35L529.40,53.90L530.95,54.70L529.40,55.50L528.60,57.05L527.80,55.50ZM528.65,55.70L530.20,54.90L531.00,53.35L531.80,54.90L533.35,55.70L531.80,56.50L531.00,58.05L530.20,56.50ZM523.35,58.10L524.90,57.30L525.70,55.75L526.50,57.30L528.05,58.10L526.50,58.90L525.70,60.45L524.90,58.90ZM523.35,61.50L524.90,60.70L525.70,59.15L526.50,60.70L528.05,61.50L526.50,62.30L525.70,63.85L524.90,62.30ZM523.35,63.00L524.90,62.20L525.70,60.65L526.50,62.20L528.05,63.00L526.50,63.80L525.70,65.35L524.90,63.80ZM525.75,65.40L527.30,64.60L528.10,63.05L528.90,64.60L530.45,65.40L528.90,66.20L528.10,67.75L527.30,66.20ZM528.65,65.90L530.20,65.10L531.00,63.55L531.80,65.10L533.35,65.90L531.80,66.70L531.00,68.25L530.20,66.70ZM526.75,67.40L528.30,66.60L529.10,65.05L529.90,66.60L531.45,67.40L529.90,68.20L529.10,69.75L528.30,68.20ZM529.65,68.30L531.20,67.50L532.00,65.95L532.80,67.50L534.35,68.30L532.80,69.10L532.00,70.65L531.20,69.10ZM525.15,48.50L526.70,47.70L527.50,46.15L528.30,47.70L529.85,48.50L528.30,49.30L527.50,50.85L526.70,49.30ZM522.15,56.50L523.70,55.70L524.50,54.15L525.30,55.70L526.85,56.50L525.30,57.30L524.50,58.85L523.70,57.30ZM524.65,60.00L526.20,59.20L527.00,57.65L527.80,59.20L529.35,60.00L527.80,60.80L527.00,62.35L526.20,60.80ZM522.45,64.50L524.00,63.70L524.80,62.15L525.60,63.70L527.15,64.50L525.60,65.30L524.80,66.85L524.00,65.30ZM527.65,62.50L529.20,61.70L530.00,60.15L530.80,61.70L532.35,62.50L530.80,63.30L530.00,64.85L529.20,63.30ZM525.15,52.00L526.70,51.20L527.50,49.65L528.30,51.20L529.85,52.00L528.30,52.80L527.50,54.35L526.70,52.80ZM523.35,82.30L524.90,81.50L525.70,79.95L526.50,81.50L528.05,82.30L526.50,83.10L525.70,84.65L524.90,83.10Z" fill="#E8D62C"/>
<line x1="621" y1="72.4" x2="612.4" y2="97.7" stroke="#333" stroke-width="0.7"/>
<line x1="610" y1="106.6" x2="606.2" y2="116.4" stroke="#333" stroke-width="0.7"/>
<g opacity="0.85"><line x1="590.00" y1="123.40" x2="574.40" y2="123.40" stroke="#E53540" stroke-width="1.4"/>
<path d="M569.80,123.40 L576.40,120.20 L574.40,123.40 L576.40,126.60 Z" fill="#E53540"/></g>
<text x="549.50" y="23.30" font-size="8.6" textLength="38.70" lengthAdjust="spacingAndGlyphs" text-anchor="start" fill="#9a9a9a" stroke="#9a9a9a" stroke-width="0.18" >Deepening</text>
<text x="495.80" y="154.10" font-size="8.6" textLength="38.69" lengthAdjust="spacingAndGlyphs" text-anchor="start" fill="#9a9a9a" stroke="#9a9a9a" stroke-width="0.18" >Shallowing</text>
<text x="554.20" y="41.80" font-size="8.6" textLength="61.39" lengthAdjust="spacingAndGlyphs" text-anchor="start" fill="#1c1c1c" stroke="#1c1c1c" stroke-width="0.18" >2016Q3–2017Q2</text>
<text x="478.50" y="61.40" font-size="8.6" textLength="17.80" lengthAdjust="spacingAndGlyphs" text-anchor="start" fill="#1c1c1c" stroke="#1c1c1c" stroke-width="0.18" >2021</text>
<text x="475.30" y="115.80" font-size="8.6" textLength="61.39" lengthAdjust="spacingAndGlyphs" text-anchor="start" fill="#1c1c1c" stroke="#1c1c1c" stroke-width="0.18" >2019Q3–2020Q2</text>
<text x="582.80" y="105.00" font-size="8.6" textLength="61.39" lengthAdjust="spacingAndGlyphs" text-anchor="start" fill="#1c1c1c" stroke="#1c1c1c" stroke-width="0.18" >2014Q2–2015Q1</text>
<text x="560.40" y="8.50" font-size="9.3" text-anchor="middle" fill="#1c1c1c" stroke="#1c1c1c" stroke-width="0.18" >North China Plain</text>
<line x1="473.5" y1="13.8" x2="473.5" y2="161.0" stroke="#858282" stroke-width="1"/>
<line x1="473.5" y1="161.0" x2="640.0" y2="161.0" stroke="#858282" stroke-width="1"/>
<line x1="473.5" y1="16.30" x2="475.5" y2="16.30" stroke="#666" stroke-width="0.8"/>
<text x="471.30" y="19.20" font-size="8.6" textLength="8.90" lengthAdjust="spacingAndGlyphs" text-anchor="end" fill="#1c1c1c" stroke="#1c1c1c" stroke-width="0.18" >72</text>
<line x1="473.5" y1="34.60" x2="475.5" y2="34.60" stroke="#666" stroke-width="0.8"/>
<text x="471.30" y="37.50" font-size="8.6" textLength="8.90" lengthAdjust="spacingAndGlyphs" text-anchor="end" fill="#1c1c1c" stroke="#1c1c1c" stroke-width="0.18" >60</text>
<line x1="473.5" y1="56.70" x2="475.5" y2="56.70" stroke="#666" stroke-width="0.8"/>
<text x="471.30" y="59.60" font-size="8.6" textLength="8.90" lengthAdjust="spacingAndGlyphs" text-anchor="end" fill="#1c1c1c" stroke="#1c1c1c" stroke-width="0.18" >50</text>
<line x1="473.5" y1="93.40" x2="475.5" y2="93.40" stroke="#666" stroke-width="0.8"/>
<text x="471.30" y="96.30" font-size="8.6" textLength="8.90" lengthAdjust="spacingAndGlyphs" text-anchor="end" fill="#1c1c1c" stroke="#1c1c1c" stroke-width="0.18" >40</text>
<line x1="473.5" y1="158.50" x2="475.5" y2="158.50" stroke="#666" stroke-width="0.8"/>
<text x="471.30" y="161.40" font-size="8.6" textLength="8.90" lengthAdjust="spacingAndGlyphs" text-anchor="end" fill="#1c1c1c" stroke="#1c1c1c" stroke-width="0.18" >33</text>
<line x1="476.10" y1="161.0" x2="476.10" y2="159.0" stroke="#666" stroke-width="0.8"/>
<text x="475.70" y="169.70" font-size="8.6" textLength="13.79" lengthAdjust="spacingAndGlyphs" text-anchor="middle" fill="#1c1c1c" stroke="#1c1c1c" stroke-width="0.18" >-0.2</text>
<line x1="500.30" y1="161.0" x2="500.30" y2="159.0" stroke="#666" stroke-width="0.8"/>
<text x="497.60" y="169.70" font-size="8.6" textLength="13.79" lengthAdjust="spacingAndGlyphs" text-anchor="middle" fill="#1c1c1c" stroke="#1c1c1c" stroke-width="0.18" >-0.1</text>
<line x1="517.60" y1="161.0" x2="517.60" y2="159.0" stroke="#666" stroke-width="0.8"/>
<text x="519.00" y="169.70" font-size="8.6" textLength="18.23" lengthAdjust="spacingAndGlyphs" text-anchor="middle" fill="#1c1c1c" stroke="#1c1c1c" stroke-width="0.18" >-0.05</text>
<line x1="541.50" y1="161.0" x2="541.50" y2="159.0" stroke="#666" stroke-width="0.8"/>
<text x="541.60" y="169.70" font-size="8.6" textLength="4.45" lengthAdjust="spacingAndGlyphs" text-anchor="middle" fill="#1c1c1c" stroke="#1c1c1c" stroke-width="0.18" >0</text>
<line x1="582.50" y1="161.0" x2="582.50" y2="159.0" stroke="#666" stroke-width="0.8"/>
<text x="583.70" y="169.70" font-size="8.6" textLength="15.57" lengthAdjust="spacingAndGlyphs" text-anchor="middle" fill="#1c1c1c" stroke="#1c1c1c" stroke-width="0.18" >0.05</text>
<line x1="637.20" y1="161.0" x2="637.20" y2="159.0" stroke="#666" stroke-width="0.8"/>
<text x="637.90" y="169.70" font-size="8.6" textLength="15.57" lengthAdjust="spacingAndGlyphs" text-anchor="middle" fill="#1c1c1c" stroke="#1c1c1c" stroke-width="0.18" >0.08</text>
<text transform="translate(457.0,88.4) rotate(-90)" font-size="8.6" textLength="141.0" lengthAdjust="spacingAndGlyphs" text-anchor="middle" fill="#1c1c1c" stroke="#1c1c1c" stroke-width="0.18">Average Pr in the past 12 months (mm)</text>
<rect x="653.2" y="13.4" width="10.199999999999932" height="147.29999999999998" fill="url(#parula)" stroke="#8a8a8a" stroke-width="0.7"/>
<line x1="663.4" y1="17.00" x2="664.9" y2="17.00" stroke="#444" stroke-width="0.8"/>
<text x="667.00" y="19.90" font-size="8.6" textLength="17.80" lengthAdjust="spacingAndGlyphs" text-anchor="start" fill="#1c1c1c" stroke="#1c1c1c" stroke-width="0.18" >2024</text>
<line x1="663.4" y1="47.20" x2="664.9" y2="47.20" stroke="#444" stroke-width="0.8"/>
<text x="667.00" y="50.10" font-size="8.6" textLength="17.80" lengthAdjust="spacingAndGlyphs" text-anchor="start" fill="#1c1c1c" stroke="#1c1c1c" stroke-width="0.18" >2020</text>
<line x1="663.4" y1="84.10" x2="664.9" y2="84.10" stroke="#444" stroke-width="0.8"/>
<text x="667.00" y="87.00" font-size="8.6" textLength="17.80" lengthAdjust="spacingAndGlyphs" text-anchor="start" fill="#1c1c1c" stroke="#1c1c1c" stroke-width="0.18" >2015</text>
<line x1="663.4" y1="121.40" x2="664.9" y2="121.40" stroke="#444" stroke-width="0.8"/>
<text x="667.00" y="124.30" font-size="8.6" textLength="17.80" lengthAdjust="spacingAndGlyphs" text-anchor="start" fill="#1c1c1c" stroke="#1c1c1c" stroke-width="0.18" >2010</text>
<line x1="663.4" y1="158.40" x2="664.9" y2="158.40" stroke="#444" stroke-width="0.8"/>
<text x="667.00" y="161.30" font-size="8.6" textLength="17.80" lengthAdjust="spacingAndGlyphs" text-anchor="start" fill="#1c1c1c" stroke="#1c1c1c" stroke-width="0.18" >2005</text>
<text x="667.40" y="7.70" font-size="8.6" textLength="16.16" lengthAdjust="spacingAndGlyphs" text-anchor="start" fill="#1c1c1c" stroke="#1c1c1c" stroke-width="0.18" >Year</text>
<ellipse cx="484.9" cy="210.7" rx="7.2" ry="12.8" fill="#FCEAD2" opacity="1"/>
<ellipse cx="507.5" cy="220.5" rx="5.4" ry="10.6" fill="#F8F6CD" opacity="1"/>
<ellipse cx="503" cy="265" rx="22.3" ry="10.7" fill="#FCEAD2" opacity="1"/>
<ellipse cx="541.5" cy="294" rx="8" ry="28.6" fill="#F0EFD4" opacity="1"/>
<ellipse cx="567.4" cy="309.8" rx="12.6" ry="22" fill="#CDEDF1" opacity="1" transform="rotate(-35 567.4 309.8)"/>
<ellipse cx="599.4" cy="277.3" rx="13" ry="20.6" fill="#D6D6EB" opacity="1"/>
<ellipse cx="627.5" cy="301.9" rx="17.5" ry="11" fill="#D6D6EB" opacity="1" transform="rotate(-33 627.5 301.9)"/>
<line x1="544.5" y1="198" x2="544.5" y2="342" stroke="#777" stroke-width="0.8" stroke-dasharray="1.2,1.8"/>
<path d="M543.35,235.10L544.90,234.30L545.70,232.75L546.50,234.30L548.05,235.10L546.50,235.90L545.70,237.45L544.90,235.90ZM592.95,260.50L594.50,259.70L595.30,258.15L596.10,259.70L597.65,260.50L596.10,261.30L595.30,262.85L594.50,261.30ZM593.95,261.50L595.50,260.70L596.30,259.15L597.10,260.70L598.65,261.50L597.10,262.30L596.30,263.85L595.50,262.30ZM596.25,264.50L597.80,263.70L598.60,262.15L599.40,263.70L600.95,264.50L599.40,265.30L598.60,266.85L597.80,265.30ZM589.75,265.30L591.30,264.50L592.10,262.95L592.90,264.50L594.45,265.30L592.90,266.10L592.10,267.65L591.30,266.10ZM591.85,268.10L593.40,267.30L594.20,265.75L595.00,267.30L596.55,268.10L595.00,268.90L594.20,270.45L593.40,268.90ZM595.05,277.20L596.60,276.40L597.40,274.85L598.20,276.40L599.75,277.20L598.20,278.00L597.40,279.55L596.60,278.00ZM597.05,283.70L598.60,282.90L599.40,281.35L600.20,282.90L601.75,283.70L600.20,284.50L599.40,286.05L598.60,284.50ZM602.25,284.50L603.80,283.70L604.60,282.15L605.40,283.70L606.95,284.50L605.40,285.30L604.60,286.85L603.80,285.30ZM597.05,288.10L598.60,287.30L599.40,285.75L600.20,287.30L601.75,288.10L600.20,288.90L599.40,290.45L598.60,288.90ZM597.85,291.40L599.40,290.60L600.20,289.05L601.00,290.60L602.55,291.40L601.00,292.20L600.20,293.75L599.40,292.20ZM602.25,293.00L603.80,292.20L604.60,290.65L605.40,292.20L606.95,293.00L605.40,293.80L604.60,295.35L603.80,293.80ZM629.35,293.00L630.90,292.20L631.70,290.65L632.50,292.20L634.05,293.00L632.50,293.80L631.70,295.35L630.90,293.80ZM635.55,296.20L637.10,295.40L637.90,293.85L638.70,295.40L640.25,296.20L638.70,297.00L637.90,298.55L637.10,297.00ZM637.15,296.20L638.70,295.40L639.50,293.85L640.30,295.40L641.85,296.20L640.30,297.00L639.50,298.55L638.70,297.00ZM624.55,303.60L626.10,302.80L626.90,301.25L627.70,302.80L629.25,303.60L627.70,304.40L626.90,305.95L626.10,304.40ZM633.45,303.60L635.00,302.80L635.80,301.25L636.60,302.80L638.15,303.60L636.60,304.40L635.80,305.95L635.00,304.40ZM613.45,308.90L615.00,308.10L615.80,306.55L616.60,308.10L618.15,308.90L616.60,309.70L615.80,311.25L615.00,309.70ZM564.25,291.30L565.80,290.50L566.60,288.95L567.40,290.50L568.95,291.30L567.40,292.10L566.60,293.65L565.80,292.10ZM566.65,302.70L568.20,301.90L569.00,300.35L569.80,301.90L571.35,302.70L569.80,303.50L569.00,305.05L568.20,303.50ZM569.15,303.50L570.70,302.70L571.50,301.15L572.30,302.70L573.85,303.50L572.30,304.30L571.50,305.85L570.70,304.30ZM571.15,304.00L572.70,303.20L573.50,301.65L574.30,303.20L575.85,304.00L574.30,304.80L573.50,306.35L572.70,304.80ZM573.15,305.00L574.70,304.20L575.50,302.65L576.30,304.20L577.85,305.00L576.30,305.80L575.50,307.35L574.70,305.80ZM574.85,306.70L576.40,305.90L577.20,304.35L578.00,305.90L579.55,306.70L578.00,307.50L577.20,309.05L576.40,307.50ZM578.85,306.70L580.40,305.90L581.20,304.35L582.00,305.90L583.55,306.70L582.00,307.50L581.20,309.05L580.40,307.50ZM543.05,259.20L544.60,258.40L545.40,256.85L546.20,258.40L547.75,259.20L546.20,260.00L545.40,261.55L544.60,260.00Z" fill="#3A42A4"/>
<path d="M544.05,273.30L545.60,272.50L546.40,270.95L547.20,272.50L548.75,273.30L547.20,274.10L546.40,275.65L545.60,274.10Z" fill="#5060A8"/>
<path d="M541.85,240.50L543.40,239.70L544.20,238.15L545.00,239.70L546.55,240.50L545.00,241.30L544.20,242.85L543.40,241.30ZM544.25,241.00L545.80,240.20L546.60,238.65L547.40,240.20L548.95,241.00L547.40,241.80L546.60,243.35L545.80,241.80ZM529.15,254.60L530.70,253.80L531.50,252.25L532.30,253.80L533.85,254.60L532.30,255.40L531.50,256.95L530.70,255.40ZM546.85,241.90L548.40,241.10L549.20,239.55L550.00,241.10L551.55,241.90L550.00,242.70L549.20,244.25L548.40,242.70ZM549.05,242.40L550.60,241.60L551.40,240.05L552.20,241.60L553.75,242.40L552.20,243.20L551.40,244.75L550.60,243.20ZM553.35,242.40L554.90,241.60L555.70,240.05L556.50,241.60L558.05,242.40L556.50,243.20L555.70,244.75L554.90,243.20ZM559.15,239.90L560.70,239.10L561.50,237.55L562.30,239.10L563.85,239.90L562.30,240.70L561.50,242.25L560.70,240.70ZM564.95,241.30L566.50,240.50L567.30,238.95L568.10,240.50L569.65,241.30L568.10,242.10L567.30,243.65L566.50,242.10ZM569.65,244.60L571.20,243.80L572.00,242.25L572.80,243.80L574.35,244.60L572.80,245.40L572.00,246.95L571.20,245.40ZM573.05,252.30L574.60,251.50L575.40,249.95L576.20,251.50L577.75,252.30L576.20,253.10L575.40,254.65L574.60,253.10ZM575.35,259.70L576.90,258.90L577.70,257.35L578.50,258.90L580.05,259.70L578.50,260.50L577.70,262.05L576.90,260.50ZM574.45,262.30L576.00,261.50L576.80,259.95L577.60,261.50L579.15,262.30L577.60,263.10L576.80,264.65L576.00,263.10ZM564.25,263.20L565.80,262.40L566.60,260.85L567.40,262.40L568.95,263.20L567.40,264.00L566.60,265.55L565.80,264.00ZM553.05,271.10L554.60,270.30L555.40,268.75L556.20,270.30L557.75,271.10L556.20,271.90L555.40,273.45L554.60,271.90ZM559.55,270.20L561.10,269.40L561.90,267.85L562.70,269.40L564.25,270.20L562.70,271.00L561.90,272.55L561.10,271.00ZM562.15,270.70L563.70,269.90L564.50,268.35L565.30,269.90L566.85,270.70L565.30,271.50L564.50,273.05L563.70,271.50ZM592.85,307.60L594.40,306.80L595.20,305.25L596.00,306.80L597.55,307.60L596.00,308.40L595.20,309.95L594.40,308.40ZM585.15,313.30L586.70,312.50L587.50,310.95L588.30,312.50L589.85,313.30L588.30,314.10L587.50,315.65L586.70,314.10ZM579.05,306.80L580.60,306.00L581.40,304.45L582.20,306.00L583.75,306.80L582.20,307.60L581.40,309.15L580.60,307.60ZM575.75,284.10L577.30,283.30L578.10,281.75L578.90,283.30L580.45,284.10L578.90,284.90L578.10,286.45L577.30,284.90ZM569.25,337.90L570.80,337.10L571.60,335.55L572.40,337.10L573.95,337.90L572.40,338.70L571.60,340.25L570.80,338.70ZM543.95,293.70L545.50,292.90L546.30,291.35L547.10,292.90L548.65,293.70L547.10,294.50L546.30,296.05L545.50,294.50ZM546.35,284.00L547.90,283.20L548.70,281.65L549.50,283.20L551.05,284.00L549.50,284.80L548.70,286.35L547.90,284.80ZM547.95,289.60L549.50,288.80L550.30,287.25L551.10,288.80L552.65,289.60L551.10,290.40L550.30,291.95L549.50,290.40ZM543.05,274.20L544.60,273.40L545.40,271.85L546.20,273.40L547.75,274.20L546.20,275.00L545.40,276.55L544.60,275.00ZM548.75,280.70L550.30,279.90L551.10,278.35L551.90,279.90L553.45,280.70L551.90,281.50L551.10,283.05L550.30,281.50ZM552.05,279.10L553.60,278.30L554.40,276.75L555.20,278.30L556.75,279.10L555.20,279.90L554.40,281.45L553.60,279.90ZM552.85,271.80L554.40,271.00L555.20,269.45L556.00,271.00L557.55,271.80L556.00,272.60L555.20,274.15L554.40,272.60ZM556.95,273.40L558.50,272.60L559.30,271.05L560.10,272.60L561.65,273.40L560.10,274.20L559.30,275.75L558.50,274.20ZM559.35,270.10L560.90,269.30L561.70,267.75L562.50,269.30L564.05,270.10L562.50,270.90L561.70,272.45L560.90,270.90ZM561.75,270.10L563.30,269.30L564.10,267.75L564.90,269.30L566.45,270.10L564.90,270.90L564.10,272.45L563.30,270.90ZM565.05,274.20L566.60,273.40L567.40,271.85L568.20,273.40L569.75,274.20L568.20,275.00L567.40,276.55L566.60,275.00ZM564.25,263.60L565.80,262.80L566.60,261.25L567.40,262.80L568.95,263.60L567.40,264.40L566.60,265.95L565.80,264.40ZM574.85,262.80L576.40,262.00L577.20,260.45L578.00,262.00L579.55,262.80L578.00,263.60L577.20,265.15L576.40,263.60ZM557.75,279.10L559.30,278.30L560.10,276.75L560.90,278.30L562.45,279.10L560.90,279.90L560.10,281.45L559.30,279.90ZM563.45,279.10L565.00,278.30L565.80,276.75L566.60,278.30L568.15,279.10L566.60,279.90L565.80,281.45L565.00,279.90ZM565.05,283.10L566.60,282.30L567.40,280.75L568.20,282.30L569.75,283.10L568.20,283.90L567.40,285.45L566.60,283.90ZM565.85,286.40L567.40,285.60L568.20,284.05L569.00,285.60L570.55,286.40L569.00,287.20L568.20,288.75L567.40,287.20ZM575.65,284.00L577.20,283.20L578.00,281.65L578.80,283.20L580.35,284.00L578.80,284.80L578.00,286.35L577.20,284.80ZM565.05,296.10L566.60,295.30L567.40,293.75L568.20,295.30L569.75,296.10L568.20,296.90L567.40,298.45L566.60,296.90ZM570.75,293.70L572.30,292.90L573.10,291.35L573.90,292.90L575.45,293.70L573.90,294.50L573.10,296.05L572.30,294.50ZM572.35,298.60L573.90,297.80L574.70,296.25L575.50,297.80L577.05,298.60L575.50,299.40L574.70,300.95L573.90,299.40ZM573.15,319.70L574.70,318.90L575.50,317.35L576.30,318.90L577.85,319.70L576.30,320.50L575.50,322.05L574.70,320.50ZM585.35,313.20L586.90,312.40L587.70,310.85L588.50,312.40L590.05,313.20L588.50,314.00L587.70,315.55L586.90,314.00ZM566.95,324.90L568.50,324.10L569.30,322.55L570.10,324.10L571.65,324.90L570.10,325.70L569.30,327.25L568.50,325.70ZM541.35,257.60L542.90,256.80L543.70,255.25L544.50,256.80L546.05,257.60L544.50,258.40L543.70,259.95L542.90,258.40ZM548.45,288.50L550.00,287.70L550.80,286.15L551.60,287.70L553.15,288.50L551.60,289.30L550.80,290.85L550.00,289.30Z" fill="#3C6CC8"/>
<path d="M524.25,229.00L525.80,228.20L526.60,226.65L527.40,228.20L528.95,229.00L527.40,229.80L526.60,231.35L525.80,229.80ZM527.25,228.60L528.80,227.80L529.60,226.25L530.40,227.80L531.95,228.60L530.40,229.40L529.60,230.95L528.80,229.40ZM523.35,239.00L524.90,238.20L525.70,236.65L526.50,238.20L528.05,239.00L526.50,239.80L525.70,241.35L524.90,239.80ZM523.35,241.00L524.90,240.20L525.70,238.65L526.50,240.20L528.05,241.00L526.50,241.80L525.70,243.35L524.90,241.80ZM525.25,243.90L526.80,243.10L527.60,241.55L528.40,243.10L529.95,243.90L528.40,244.70L527.60,246.25L526.80,244.70ZM540.85,244.90L542.40,244.10L543.20,242.55L544.00,244.10L545.55,244.90L544.00,245.70L543.20,247.25L542.40,245.70ZM526.75,257.60L528.30,256.80L529.10,255.25L529.90,256.80L531.45,257.60L529.90,258.40L529.10,259.95L528.30,258.40ZM529.45,254.90L531.00,254.10L531.80,252.55L532.60,254.10L534.15,254.90L532.60,255.70L531.80,257.25L531.00,255.70ZM533.75,264.10L535.30,263.30L536.10,261.75L536.90,263.30L538.45,264.10L536.90,264.90L536.10,266.45L535.30,264.90ZM535.95,261.90L537.50,261.10L538.30,259.55L539.10,261.10L540.65,261.90L539.10,262.70L538.30,264.25L537.50,262.70ZM538.65,263.00L540.20,262.20L541.00,260.65L541.80,262.20L543.35,263.00L541.80,263.80L541.00,265.35L540.20,263.80Z" fill="#27A0D2"/>
<path d="M529.65,229.30L531.20,228.50L532.00,226.95L532.80,228.50L534.35,229.30L532.80,230.10L532.00,231.65L531.20,230.10ZM533.05,233.70L534.60,232.90L535.40,231.35L536.20,232.90L537.75,233.70L536.20,234.50L535.40,236.05L534.60,234.50ZM540.85,233.70L542.40,232.90L543.20,231.35L544.00,232.90L545.55,233.70L544.00,234.50L543.20,236.05L542.40,234.50ZM530.65,250.20L532.20,249.40L533.00,247.85L533.80,249.40L535.35,250.20L533.80,251.00L533.00,252.55L532.20,251.00ZM538.95,254.10L540.50,253.30L541.30,251.75L542.10,253.30L543.65,254.10L542.10,254.90L541.30,256.45L540.50,254.90ZM540.85,254.30L542.40,253.50L543.20,251.95L544.00,253.50L545.55,254.30L544.00,255.10L543.20,256.65L542.40,255.10ZM576.15,267.20L577.70,266.40L578.50,264.85L579.30,266.40L580.85,267.20L579.30,268.00L578.50,269.55L577.70,268.00ZM576.55,269.00L578.10,268.20L578.90,266.65L579.70,268.20L581.25,269.00L579.70,269.80L578.90,271.35L578.10,269.80ZM548.15,250.90L549.70,250.10L550.50,248.55L551.30,250.10L552.85,250.90L551.30,251.70L550.50,253.25L549.70,251.70ZM551.65,254.90L553.20,254.10L554.00,252.55L554.80,254.10L556.35,254.90L554.80,255.70L554.00,257.25L553.20,255.70ZM553.45,256.70L555.00,255.90L555.80,254.35L556.60,255.90L558.15,256.70L556.60,257.50L555.80,259.05L555.00,257.50ZM544.75,264.40L546.30,263.60L547.10,262.05L547.90,263.60L549.45,264.40L547.90,265.20L547.10,266.75L546.30,265.20ZM556.15,275.00L557.70,274.20L558.50,272.65L559.30,274.20L560.85,275.00L559.30,275.80L558.50,277.35L557.70,275.80ZM576.45,268.50L578.00,267.70L578.80,266.15L579.60,267.70L581.15,268.50L579.60,269.30L578.80,270.85L578.00,269.30ZM567.45,279.60L569.00,278.80L569.80,277.25L570.60,278.80L572.15,279.60L570.60,280.40L569.80,281.95L569.00,280.40ZM571.55,282.30L573.10,281.50L573.90,279.95L574.70,281.50L576.25,282.30L574.70,283.10L573.90,284.65L573.10,283.10ZM574.85,279.10L576.40,278.30L577.20,276.75L578.00,278.30L579.55,279.10L578.00,279.90L577.20,281.45L576.40,279.90ZM552.05,298.60L553.60,297.80L554.40,296.25L555.20,297.80L556.75,298.60L555.20,299.40L554.40,300.95L553.60,299.40ZM555.25,298.60L556.80,297.80L557.60,296.25L558.40,297.80L559.95,298.60L558.40,299.40L557.60,300.95L556.80,299.40ZM559.35,308.30L560.90,307.50L561.70,305.95L562.50,307.50L564.05,308.30L562.50,309.10L561.70,310.65L560.90,309.10ZM563.45,308.00L565.00,307.20L565.80,305.65L566.60,307.20L568.15,308.00L566.60,308.80L565.80,310.35L565.00,308.80ZM566.65,310.00L568.20,309.20L569.00,307.65L569.80,309.20L571.35,310.00L569.80,310.80L569.00,312.35L568.20,310.80ZM569.95,310.50L571.50,309.70L572.30,308.15L573.10,309.70L574.65,310.50L573.10,311.30L572.30,312.85L571.50,311.30ZM574.85,310.00L576.40,309.20L577.20,307.65L578.00,309.20L579.55,310.00L578.00,310.80L577.20,312.35L576.40,310.80ZM571.55,315.70L573.10,314.90L573.90,313.35L574.70,314.90L576.25,315.70L574.70,316.50L573.90,318.05L573.10,316.50ZM548.85,332.70L550.40,331.90L551.20,330.35L552.00,331.90L553.55,332.70L552.00,333.50L551.20,335.05L550.40,333.50ZM573.25,323.00L574.80,322.20L575.60,320.65L576.40,322.20L577.95,323.00L576.40,323.80L575.60,325.35L574.80,323.80ZM531.05,259.80L532.60,259.00L533.40,257.45L534.20,259.00L535.75,259.80L534.20,260.60L533.40,262.15L532.60,260.60ZM538.65,254.90L540.20,254.10L541.00,252.55L541.80,254.10L543.35,254.90L541.80,255.70L541.00,257.25L540.20,255.70ZM544.65,264.10L546.20,263.30L547.00,261.75L547.80,263.30L549.35,264.10L547.80,264.90L547.00,266.45L546.20,264.90ZM548.45,251.10L550.00,250.30L550.80,248.75L551.60,250.30L553.15,251.10L551.60,251.90L550.80,253.45L550.00,251.90ZM551.15,254.30L552.70,253.50L553.50,251.95L554.30,253.50L555.85,254.30L554.30,255.10L553.50,256.65L552.70,255.10ZM546.25,276.00L547.80,275.20L548.60,273.65L549.40,275.20L550.95,276.00L549.40,276.80L548.60,278.35L547.80,276.80Z" fill="#26B3B5"/>
<path d="M529.65,231.70L531.20,230.90L532.00,229.35L532.80,230.90L534.35,231.70L532.80,232.50L532.00,234.05L531.20,232.50ZM531.65,237.60L533.20,236.80L534.00,235.25L534.80,236.80L536.35,237.60L534.80,238.40L534.00,239.95L533.20,238.40ZM534.05,237.10L535.60,236.30L536.40,234.75L537.20,236.30L538.75,237.10L537.20,237.90L536.40,239.45L535.60,237.90ZM536.95,236.60L538.50,235.80L539.30,234.25L540.10,235.80L541.65,236.60L540.10,237.40L539.30,238.95L538.50,237.40ZM537.95,239.00L539.50,238.20L540.30,236.65L541.10,238.20L542.65,239.00L541.10,239.80L540.30,241.35L539.50,239.80ZM530.15,241.00L531.70,240.20L532.50,238.65L533.30,240.20L534.85,241.00L533.30,241.80L532.50,243.35L531.70,241.80ZM537.45,241.00L539.00,240.20L539.80,238.65L540.60,240.20L542.15,241.00L540.60,241.80L539.80,243.35L539.00,241.80ZM535.95,249.80L537.50,249.00L538.30,247.45L539.10,249.00L540.65,249.80L539.10,250.60L538.30,252.15L537.50,250.60ZM532.55,252.20L534.10,251.40L534.90,249.85L535.70,251.40L537.25,252.20L535.70,253.00L534.90,254.55L534.10,253.00Z" fill="#4FB87C"/>
<path d="M516.45,234.10L518.00,233.30L518.80,231.75L519.60,233.30L521.15,234.10L519.60,234.90L518.80,236.45L518.00,234.90ZM515.95,240.50L517.50,239.70L518.30,238.15L519.10,239.70L520.65,240.50L519.10,241.30L518.30,242.85L517.50,241.30ZM516.45,245.40L518.00,244.60L518.80,243.05L519.60,244.60L521.15,245.40L519.60,246.20L518.80,247.75L518.00,246.20ZM520.35,244.90L521.90,244.10L522.70,242.55L523.50,244.10L525.05,244.90L523.50,245.70L522.70,247.25L521.90,245.70ZM515.55,252.20L517.10,251.40L517.90,249.85L518.70,251.40L520.25,252.20L518.70,253.00L517.90,254.55L517.10,253.00ZM518.45,252.20L520.00,251.40L520.80,249.85L521.60,251.40L523.15,252.20L521.60,253.00L520.80,254.55L520.00,253.00ZM521.35,252.20L522.90,251.40L523.70,249.85L524.50,251.40L526.05,252.20L524.50,253.00L523.70,254.55L522.90,253.00ZM524.25,251.70L525.80,250.90L526.60,249.35L527.40,250.90L528.95,251.70L527.40,252.50L526.60,254.05L525.80,252.50ZM522.35,254.60L523.90,253.80L524.70,252.25L525.50,253.80L527.05,254.60L525.50,255.40L524.70,256.95L523.90,255.40ZM517.45,259.20L519.00,258.40L519.80,256.85L520.60,258.40L522.15,259.20L520.60,260.00L519.80,261.55L519.00,260.00ZM522.45,255.40L524.00,254.60L524.80,253.05L525.60,254.60L527.15,255.40L525.60,256.20L524.80,257.75L524.00,256.20Z" fill="#72BE58"/>
<path d="M528.65,251.20L530.20,250.40L531.00,248.85L531.80,250.40L533.35,251.20L531.80,252.00L531.00,253.55L530.20,252.00ZM535.55,247.80L537.10,247.00L537.90,245.45L538.70,247.00L540.25,247.80L538.70,248.60L537.90,250.15L537.10,248.60ZM537.55,285.20L539.10,284.40L539.90,282.85L540.70,284.40L542.25,285.20L540.70,286.00L539.90,287.55L539.10,286.00Z" fill="#8AC255"/>
<path d="M537.45,266.90L539.00,266.10L539.80,264.55L540.60,266.10L542.15,266.90L540.60,267.70L539.80,269.25L539.00,267.70ZM540.65,268.50L542.20,267.70L543.00,266.15L543.80,267.70L545.35,268.50L543.80,269.30L543.00,270.85L542.20,269.30ZM536.55,274.20L538.10,273.40L538.90,271.85L539.70,273.40L541.25,274.20L539.70,275.00L538.90,276.55L538.10,275.00ZM539.05,278.30L540.60,277.50L541.40,275.95L542.20,277.50L543.75,278.30L542.20,279.10L541.40,280.65L540.60,279.10ZM533.35,281.50L534.90,280.70L535.70,279.15L536.50,280.70L538.05,281.50L536.50,282.30L535.70,283.85L534.90,282.30ZM538.25,293.70L539.80,292.90L540.60,291.35L541.40,292.90L542.95,293.70L541.40,294.50L540.60,296.05L539.80,294.50ZM537.45,297.40L539.00,296.60L539.80,295.05L540.60,296.60L542.15,297.40L540.60,298.20L539.80,299.75L539.00,298.20ZM537.45,318.10L539.00,317.30L539.80,315.75L540.60,317.30L542.15,318.10L540.60,318.90L539.80,320.45L539.00,318.90ZM533.25,260.30L534.80,259.50L535.60,257.95L536.40,259.50L537.95,260.30L536.40,261.10L535.60,262.65L534.80,261.10ZM540.25,266.80L541.80,266.00L542.60,264.45L543.40,266.00L544.95,266.80L543.40,267.60L542.60,269.15L541.80,267.60ZM537.05,270.60L538.60,269.80L539.40,268.25L540.20,269.80L541.75,270.60L540.20,271.40L539.40,272.95L538.60,271.40ZM539.25,274.40L540.80,273.60L541.60,272.05L542.40,273.60L543.95,274.40L542.40,275.20L541.60,276.75L540.80,275.20ZM538.65,277.60L540.20,276.80L541.00,275.25L541.80,276.80L543.35,277.60L541.80,278.40L541.00,279.95L540.20,278.40Z" fill="#BEB23A"/>
<path d="M480.25,204.30L481.80,203.50L482.60,201.95L483.40,203.50L484.95,204.30L483.40,205.10L482.60,206.65L481.80,205.10ZM483.15,203.90L484.70,203.10L485.50,201.55L486.30,203.10L487.85,203.90L486.30,204.70L485.50,206.25L484.70,204.70ZM486.15,203.90L487.70,203.10L488.50,201.55L489.30,203.10L490.85,203.90L489.30,204.70L488.50,206.25L487.70,204.70ZM491.35,203.90L492.90,203.10L493.70,201.55L494.50,203.10L496.05,203.90L494.50,204.70L493.70,206.25L492.90,204.70ZM498.15,205.20L499.70,204.40L500.50,202.85L501.30,204.40L502.85,205.20L501.30,206.00L500.50,207.55L499.70,206.00ZM504.95,204.70L506.50,203.90L507.30,202.35L508.10,203.90L509.65,204.70L508.10,205.50L507.30,207.05L506.50,205.50ZM512.15,205.90L513.70,205.10L514.50,203.55L515.30,205.10L516.85,205.90L515.30,206.70L514.50,208.25L513.70,206.70ZM517.85,204.40L519.40,203.60L520.20,202.05L521.00,203.60L522.55,204.40L521.00,205.20L520.20,206.75L519.40,205.20ZM480.75,208.30L482.30,207.50L483.10,205.95L483.90,207.50L485.45,208.30L483.90,209.10L483.10,210.65L482.30,209.10ZM483.95,216.50L485.50,215.70L486.30,214.15L487.10,215.70L488.65,216.50L487.10,217.30L486.30,218.85L485.50,217.30ZM481.85,220.50L483.40,219.70L484.20,218.15L485.00,219.70L486.55,220.50L485.00,221.30L484.20,222.85L483.40,221.30ZM522.15,230.90L523.70,230.10L524.50,228.55L525.30,230.10L526.85,230.90L525.30,231.70L524.50,233.25L523.70,231.70ZM525.25,235.10L526.80,234.30L527.60,232.75L528.40,234.30L529.95,235.10L528.40,235.90L527.60,237.45L526.80,235.90ZM519.45,242.20L521.00,241.40L521.80,239.85L522.60,241.40L524.15,242.20L522.60,243.00L521.80,244.55L521.00,243.00ZM535.95,252.20L537.50,251.40L538.30,249.85L539.10,251.40L540.65,252.20L539.10,253.00L538.30,254.55L537.50,253.00ZM485.55,259.50L487.10,258.70L487.90,257.15L488.70,258.70L490.25,259.50L488.70,260.30L487.90,261.85L487.10,260.30ZM493.35,263.30L494.90,262.50L495.70,260.95L496.50,262.50L498.05,263.30L496.50,264.10L495.70,265.65L494.90,264.10ZM499.55,258.90L501.10,258.10L501.90,256.55L502.70,258.10L504.25,258.90L502.70,259.70L501.90,261.25L501.10,259.70ZM506.65,265.20L508.20,264.40L509.00,262.85L509.80,264.40L511.35,265.20L509.80,266.00L509.00,267.55L508.20,266.00ZM488.95,270.90L490.50,270.10L491.30,268.55L492.10,270.10L493.65,270.90L492.10,271.70L491.30,273.25L490.50,271.70ZM514.45,260.70L516.00,259.90L516.80,258.35L517.60,259.90L519.15,260.70L517.60,261.50L516.80,263.05L516.00,261.50ZM522.25,259.90L523.80,259.10L524.60,257.55L525.40,259.10L526.95,259.90L525.40,260.70L524.60,262.25L523.80,260.70ZM527.85,272.20L529.40,271.40L530.20,269.85L531.00,271.40L532.55,272.20L531.00,273.00L530.20,274.55L529.40,273.00ZM537.45,285.60L539.00,284.80L539.80,283.25L540.60,284.80L542.15,285.60L540.60,286.40L539.80,287.95L539.00,286.40ZM514.85,260.80L516.40,260.00L517.20,258.45L518.00,260.00L519.55,260.80L518.00,261.60L517.20,263.15L516.40,261.60ZM522.45,260.30L524.00,259.50L524.80,257.95L525.60,259.50L527.15,260.30L525.60,261.10L524.80,262.65L524.00,261.10ZM528.95,258.10L530.50,257.30L531.30,255.75L532.10,257.30L533.65,258.10L532.10,258.90L531.30,260.45L530.50,258.90ZM533.75,281.40L535.30,280.60L536.10,279.05L536.90,280.60L538.45,281.40L536.90,282.20L536.10,283.75L535.30,282.20Z" fill="#F0BF45"/>
<path d="M504.65,211.30L506.20,210.50L507.00,208.95L507.80,210.50L509.35,211.30L507.80,212.10L507.00,213.65L506.20,212.10ZM504.65,213.00L506.20,212.20L507.00,210.65L507.80,212.20L509.35,213.00L507.80,213.80L507.00,215.35L506.20,213.80ZM505.65,224.20L507.20,223.40L508.00,221.85L508.80,223.40L510.35,224.20L508.80,225.00L508.00,226.55L507.20,225.00ZM505.65,228.90L507.20,228.10L508.00,226.55L508.80,228.10L510.35,228.90L508.80,229.70L508.00,231.25L507.20,229.70ZM510.35,227.00L511.90,226.20L512.70,224.65L513.50,226.20L515.05,227.00L513.50,227.80L512.70,229.35L511.90,227.80ZM514.15,227.60L515.70,226.80L516.50,225.25L517.30,226.80L518.85,227.60L517.30,228.40L516.50,229.95L515.70,228.40ZM517.35,228.00L518.90,227.20L519.70,225.65L520.50,227.20L522.05,228.00L520.50,228.80L519.70,230.35L518.90,228.80ZM505.25,243.10L506.80,242.30L507.60,240.75L508.40,242.30L509.95,243.10L508.40,243.90L507.60,245.45L506.80,243.90ZM510.65,227.30L512.20,226.50L513.00,224.95L513.80,226.50L515.35,227.30L513.80,228.10L513.00,229.65L512.20,228.10ZM513.05,227.30L514.60,226.50L515.40,224.95L516.20,226.50L517.75,227.30L516.20,228.10L515.40,229.65L514.60,228.10ZM519.45,237.80L521.00,237.00L521.80,235.45L522.60,237.00L524.15,237.80L522.60,238.60L521.80,240.15L521.00,238.60ZM523.45,270.60L525.00,269.80L525.80,268.25L526.60,269.80L528.15,270.60L526.60,271.40L525.80,272.95L525.00,271.40ZM527.05,278.30L528.60,277.50L529.40,275.95L530.20,277.50L531.75,278.30L530.20,279.10L529.40,280.65L528.60,279.10ZM505.25,243.30L506.80,242.50L507.60,240.95L508.40,242.50L509.95,243.30L508.40,244.10L507.60,245.65L506.80,244.10ZM530.95,286.40L532.50,285.60L533.30,284.05L534.10,285.60L535.65,286.40L534.10,287.20L533.30,288.75L532.50,287.20ZM534.95,286.40L536.50,285.60L537.30,284.05L538.10,285.60L539.65,286.40L538.10,287.20L537.30,288.75L536.50,287.20ZM521.35,301.90L522.90,301.10L523.70,299.55L524.50,301.10L526.05,301.90L524.50,302.70L523.70,304.25L522.90,302.70ZM530.55,286.90L532.10,286.10L532.90,284.55L533.70,286.10L535.25,286.90L533.70,287.70L532.90,289.25L532.10,287.70ZM533.25,286.30L534.80,285.50L535.60,283.95L536.40,285.50L537.95,286.30L536.40,287.10L535.60,288.65L534.80,287.10Z" fill="#E8D62C"/>
<line x1="486.7" y1="224.5" x2="489.9" y2="234" stroke="#333" stroke-width="0.7"/>
<line x1="492.4" y1="245" x2="496.8" y2="253.6" stroke="#333" stroke-width="0.7"/>
<line x1="612.7" y1="240.9" x2="600.1" y2="255" stroke="#333" stroke-width="0.7"/>
<line x1="615.7" y1="241.3" x2="631.1" y2="289" stroke="#333" stroke-width="0.7"/>
<g opacity="0.85"><line x1="589.50" y1="293.80" x2="582.83" y2="300.13" stroke="#E53540" stroke-width="1.4"/>
<path d="M579.50,303.30 L582.08,296.43 L582.83,300.13 L586.49,301.07 Z" fill="#E53540"/></g>
<g opacity="0.85"><line x1="611.90" y1="311.20" x2="589.10" y2="319.87" stroke="#E53540" stroke-width="1.4"/>
<path d="M584.80,321.50 L589.83,316.16 L589.10,319.87 L592.11,322.15 Z" fill="#E53540"/></g>
<g opacity="0.85"><line x1="559.30" y1="306.70" x2="550.16" y2="303.65" stroke="#E53540" stroke-width="1.4"/>
<path d="M545.80,302.20 L553.07,301.25 L550.16,303.65 L551.05,307.32 Z" fill="#E53540"/></g>
<text x="549.90" y="205.20" font-size="8.6" textLength="38.70" lengthAdjust="spacingAndGlyphs" text-anchor="start" fill="#9a9a9a" stroke="#9a9a9a" stroke-width="0.18" >Deepening</text>
<text x="495.50" y="337.10" font-size="8.6" textLength="38.69" lengthAdjust="spacingAndGlyphs" text-anchor="start" fill="#9a9a9a" stroke="#9a9a9a" stroke-width="0.18" >Shallowing</text>
<text x="514.00" y="220.90" font-size="8.6" textLength="17.80" lengthAdjust="spacingAndGlyphs" text-anchor="start" fill="#1c1c1c" stroke="#1c1c1c" stroke-width="0.18" >2024</text>
<text x="478.50" y="243.10" font-size="8.6" textLength="17.80" lengthAdjust="spacingAndGlyphs" text-anchor="start" fill="#1c1c1c" stroke="#1c1c1c" stroke-width="0.18" >2021</text>
<text x="473.60" y="311.80" font-size="8.6" textLength="61.39" lengthAdjust="spacingAndGlyphs" text-anchor="start" fill="#1c1c1c" stroke="#1c1c1c" stroke-width="0.18" >2019Q3–2020Q2</text>
<text x="576.40" y="237.80" font-size="8.6" textLength="61.39" lengthAdjust="spacingAndGlyphs" text-anchor="start" fill="#1c1c1c" stroke="#1c1c1c" stroke-width="0.18" >2005Q1–2006Q2</text>
<text x="574.90" y="336.90" font-size="8.6" textLength="61.39" lengthAdjust="spacingAndGlyphs" text-anchor="start" fill="#1c1c1c" stroke="#1c1c1c" stroke-width="0.18" >2014Q3–2015Q2</text>
<text x="558.25" y="185.9" font-size="9.9" textLength="27.1" lengthAdjust="spacingAndGlyphs" text-anchor="middle" fill="#1c1c1c" stroke="#1c1c1c" stroke-width="0.15">Beijing</text>
<line x1="472.0" y1="190" x2="472.0" y2="342.5" stroke="#858282" stroke-width="1"/>
<line x1="472.0" y1="342.5" x2="642.0" y2="342.5" stroke="#858282" stroke-width="1"/>
<line x1="472.0" y1="203.30" x2="474.0" y2="203.30" stroke="#666" stroke-width="0.8"/>
<text x="469.80" y="206.20" font-size="8.6" textLength="8.90" lengthAdjust="spacingAndGlyphs" text-anchor="end" fill="#1c1c1c" stroke="#1c1c1c" stroke-width="0.18" >78</text>
<line x1="472.0" y1="228.10" x2="474.0" y2="228.10" stroke="#666" stroke-width="0.8"/>
<text x="469.80" y="231.00" font-size="8.6" textLength="8.90" lengthAdjust="spacingAndGlyphs" text-anchor="end" fill="#1c1c1c" stroke="#1c1c1c" stroke-width="0.18" >60</text>
<line x1="472.0" y1="250.10" x2="474.0" y2="250.10" stroke="#666" stroke-width="0.8"/>
<text x="469.80" y="253.00" font-size="8.6" textLength="8.90" lengthAdjust="spacingAndGlyphs" text-anchor="end" fill="#1c1c1c" stroke="#1c1c1c" stroke-width="0.18" >50</text>
<line x1="472.0" y1="287.50" x2="474.0" y2="287.50" stroke="#666" stroke-width="0.8"/>
<text x="469.80" y="290.40" font-size="8.6" textLength="8.90" lengthAdjust="spacingAndGlyphs" text-anchor="end" fill="#1c1c1c" stroke="#1c1c1c" stroke-width="0.18" >40</text>
<line x1="472.0" y1="337.40" x2="474.0" y2="337.40" stroke="#666" stroke-width="0.8"/>
<text x="469.80" y="340.30" font-size="8.6" textLength="8.90" lengthAdjust="spacingAndGlyphs" text-anchor="end" fill="#1c1c1c" stroke="#1c1c1c" stroke-width="0.18" >34</text>
<line x1="485.10" y1="342.5" x2="485.10" y2="340.5" stroke="#666" stroke-width="0.8"/>
<text x="484.10" y="351.00" font-size="8.6" textLength="13.79" lengthAdjust="spacingAndGlyphs" text-anchor="middle" fill="#1c1c1c" stroke="#1c1c1c" stroke-width="0.18" >-0.3</text>
<line x1="518.60" y1="342.5" x2="518.60" y2="340.5" stroke="#666" stroke-width="0.8"/>
<text x="517.30" y="351.00" font-size="8.6" textLength="13.79" lengthAdjust="spacingAndGlyphs" text-anchor="middle" fill="#1c1c1c" stroke="#1c1c1c" stroke-width="0.18" >-0.1</text>
<line x1="544.60" y1="342.5" x2="544.60" y2="340.5" stroke="#666" stroke-width="0.8"/>
<text x="544.90" y="351.00" font-size="8.6" textLength="4.45" lengthAdjust="spacingAndGlyphs" text-anchor="middle" fill="#1c1c1c" stroke="#1c1c1c" stroke-width="0.18" >0</text>
<line x1="590.00" y1="342.5" x2="590.00" y2="340.5" stroke="#666" stroke-width="0.8"/>
<text x="590.20" y="351.00" font-size="8.6" textLength="11.12" lengthAdjust="spacingAndGlyphs" text-anchor="middle" fill="#1c1c1c" stroke="#1c1c1c" stroke-width="0.18" >0.1</text>
<line x1="635.20" y1="342.5" x2="635.20" y2="340.5" stroke="#666" stroke-width="0.8"/>
<text x="634.20" y="351.00" font-size="8.6" textLength="15.57" lengthAdjust="spacingAndGlyphs" text-anchor="middle" fill="#1c1c1c" stroke="#1c1c1c" stroke-width="0.18" >0.15</text>
<text transform="translate(457.0,267.3) rotate(-90)" font-size="8.6" textLength="140.6" lengthAdjust="spacingAndGlyphs" text-anchor="middle" fill="#1c1c1c" stroke="#1c1c1c" stroke-width="0.18">Average Pr in the past 12 months (mm)</text>
<text x="486.70" y="365.40" font-size="8.6" textLength="142.00" lengthAdjust="spacingAndGlyphs" text-anchor="start" fill="#1c1c1c" stroke="#1c1c1c" stroke-width="0.18" >ΔDepth of the STL trend component (m)</text>
<rect x="651.5" y="194.8" width="10.200000000000045" height="147.3" fill="url(#parula)" stroke="#8a8a8a" stroke-width="0.7"/>
<line x1="661.7" y1="198.40" x2="663.2" y2="198.40" stroke="#444" stroke-width="0.8"/>
<text x="667.00" y="201.30" font-size="8.6" textLength="17.80" lengthAdjust="spacingAndGlyphs" text-anchor="start" fill="#1c1c1c" stroke="#1c1c1c" stroke-width="0.18" >2024</text>
<line x1="661.7" y1="228.20" x2="663.2" y2="228.20" stroke="#444" stroke-width="0.8"/>
<text x="667.00" y="231.10" font-size="8.6" textLength="17.80" lengthAdjust="spacingAndGlyphs" text-anchor="start" fill="#1c1c1c" stroke="#1c1c1c" stroke-width="0.18" >2020</text>
<line x1="661.7" y1="265.50" x2="663.2" y2="265.50" stroke="#444" stroke-width="0.8"/>
<text x="667.00" y="268.40" font-size="8.6" textLength="17.80" lengthAdjust="spacingAndGlyphs" text-anchor="start" fill="#1c1c1c" stroke="#1c1c1c" stroke-width="0.18" >2015</text>
<line x1="661.7" y1="302.80" x2="663.2" y2="302.80" stroke="#444" stroke-width="0.8"/>
<text x="667.00" y="305.70" font-size="8.6" textLength="17.80" lengthAdjust="spacingAndGlyphs" text-anchor="start" fill="#1c1c1c" stroke="#1c1c1c" stroke-width="0.18" >2010</text>
<line x1="661.7" y1="340.10" x2="663.2" y2="340.10" stroke="#444" stroke-width="0.8"/>
<text x="667.00" y="343.00" font-size="8.6" textLength="17.80" lengthAdjust="spacingAndGlyphs" text-anchor="start" fill="#1c1c1c" stroke="#1c1c1c" stroke-width="0.18" >2005</text>
<text x="667.40" y="188.70" font-size="8.6" textLength="16.16" lengthAdjust="spacingAndGlyphs" text-anchor="start" fill="#1c1c1c" stroke="#1c1c1c" stroke-width="0.18" >Year</text>
<rect x="8.6" y="351.5" width="30.799999999999997" height="6.8" fill="#fff" stroke="#555" stroke-width="0.8"/>
<rect x="98.2" y="351.5" width="30.299999999999997" height="6.8" fill="#FBD28F" stroke="#8a7a60" stroke-width="0.8"/>
<rect x="187.3" y="351.5" width="30.19999999999999" height="6.8" fill="#DADADA" stroke="#777" stroke-width="0.8"/>
<rect x="279.6" y="351.5" width="31.099999999999966" height="6.8" fill="#9ED6E6" stroke="#6a8a95" stroke-width="0.8"/>
<line x1="372.8" y1="354.2" x2="403.2" y2="354.2" stroke="#E53540" stroke-opacity="0.8" stroke-width="1.6"/>
<text x="25.10" y="367.60" font-size="8.6" textLength="44.02" lengthAdjust="spacingAndGlyphs" text-anchor="middle" fill="#1c1c1c" stroke="#1c1c1c" stroke-width="0.18" >Precipitation</text>
<text x="113.30" y="367.60" font-size="8.6" textLength="34.23" lengthAdjust="spacingAndGlyphs" text-anchor="middle" fill="#1c1c1c" stroke="#1c1c1c" stroke-width="0.18" >Dry years</text>
<text x="204.70" y="367.60" font-size="8.6" textLength="47.57" lengthAdjust="spacingAndGlyphs" text-anchor="middle" fill="#1c1c1c" stroke="#1c1c1c" stroke-width="0.18" >Normal years</text>
<text x="296.80" y="367.60" font-size="8.6" textLength="35.86" lengthAdjust="spacingAndGlyphs" text-anchor="middle" fill="#1c1c1c" stroke="#1c1c1c" stroke-width="0.18" >Wet years</text>
<text x="388.70" y="367.60" font-size="8.6" textLength="81.53" lengthAdjust="spacingAndGlyphs" text-anchor="middle" fill="#1c1c1c" stroke="#1c1c1c" stroke-width="0.18" >STL trend (unconfined)</text>
</svg>
</body></html>
